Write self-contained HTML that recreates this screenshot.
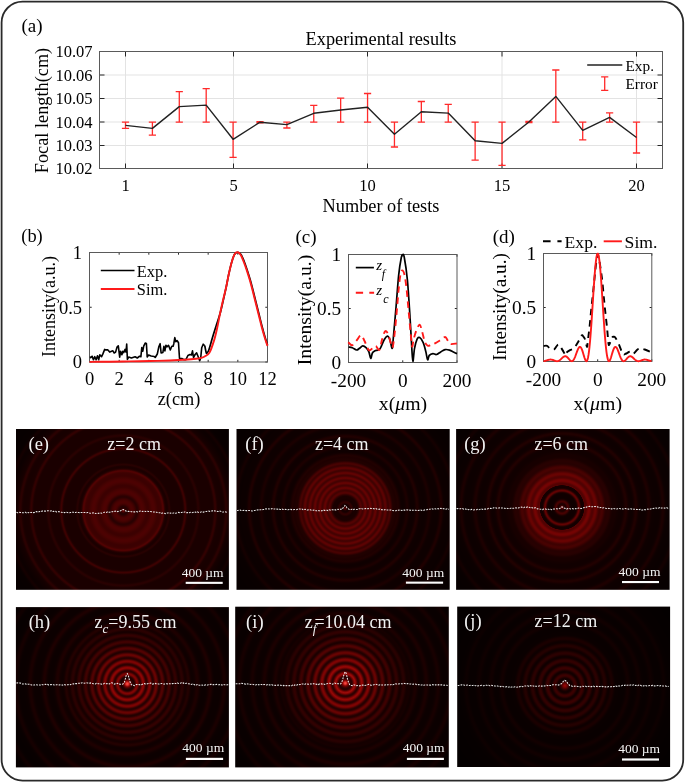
<!DOCTYPE html>
<html><head><meta charset="utf-8"><style>
html,body{margin:0;padding:0;background:#fff;}
body{width:685px;height:783px;overflow:hidden;}
svg{display:block;font-family:"Liberation Serif", serif;will-change:transform;}
</style></head><body>
<svg width="685" height="783" viewBox="0 0 685 783">
<rect x="1.6" y="1.6" width="681.6" height="779" rx="21" ry="21" fill="#fff" stroke="#2a2a2a" stroke-width="1.8"/>
<defs><radialGradient id="ge" gradientUnits="userSpaceOnUse" cx="123.3" cy="510.6" r="140">
<stop offset="0.0000" stop-color="rgb(104,3,2)"/>
<stop offset="0.0036" stop-color="rgb(100,3,2)"/>
<stop offset="0.0071" stop-color="rgb(89,2,2)"/>
<stop offset="0.0107" stop-color="rgb(73,2,2)"/>
<stop offset="0.0143" stop-color="rgb(58,1,1)"/>
<stop offset="0.0179" stop-color="rgb(46,1,1)"/>
<stop offset="0.0214" stop-color="rgb(38,1,1)"/>
<stop offset="0.0250" stop-color="rgb(36,1,1)"/>
<stop offset="0.0286" stop-color="rgb(37,1,1)"/>
<stop offset="0.0321" stop-color="rgb(42,1,1)"/>
<stop offset="0.0357" stop-color="rgb(48,1,1)"/>
<stop offset="0.0393" stop-color="rgb(54,1,1)"/>
<stop offset="0.0429" stop-color="rgb(61,1,1)"/>
<stop offset="0.0464" stop-color="rgb(66,2,1)"/>
<stop offset="0.0500" stop-color="rgb(71,2,2)"/>
<stop offset="0.0536" stop-color="rgb(74,2,2)"/>
<stop offset="0.0571" stop-color="rgb(76,2,2)"/>
<stop offset="0.0607" stop-color="rgb(77,2,2)"/>
<stop offset="0.0643" stop-color="rgb(76,2,2)"/>
<stop offset="0.0679" stop-color="rgb(75,2,2)"/>
<stop offset="0.0714" stop-color="rgb(73,2,2)"/>
<stop offset="0.0750" stop-color="rgb(70,2,1)"/>
<stop offset="0.0786" stop-color="rgb(66,2,1)"/>
<stop offset="0.0821" stop-color="rgb(62,1,1)"/>
<stop offset="0.0857" stop-color="rgb(56,1,1)"/>
<stop offset="0.0893" stop-color="rgb(51,1,1)"/>
<stop offset="0.0929" stop-color="rgb(45,1,1)"/>
<stop offset="0.0964" stop-color="rgb(41,1,1)"/>
<stop offset="0.1000" stop-color="rgb(41,1,1)"/>
<stop offset="0.1036" stop-color="rgb(43,1,1)"/>
<stop offset="0.1071" stop-color="rgb(48,1,1)"/>
<stop offset="0.1107" stop-color="rgb(54,1,1)"/>
<stop offset="0.1143" stop-color="rgb(60,1,1)"/>
<stop offset="0.1179" stop-color="rgb(66,2,1)"/>
<stop offset="0.1214" stop-color="rgb(71,2,2)"/>
<stop offset="0.1250" stop-color="rgb(74,2,2)"/>
<stop offset="0.1286" stop-color="rgb(76,2,2)"/>
<stop offset="0.1321" stop-color="rgb(77,2,2)"/>
<stop offset="0.1357" stop-color="rgb(78,2,2)"/>
<stop offset="0.1393" stop-color="rgb(77,2,2)"/>
<stop offset="0.1429" stop-color="rgb(76,2,2)"/>
<stop offset="0.1464" stop-color="rgb(74,2,2)"/>
<stop offset="0.1500" stop-color="rgb(72,2,2)"/>
<stop offset="0.1536" stop-color="rgb(70,2,1)"/>
<stop offset="0.1571" stop-color="rgb(67,2,1)"/>
<stop offset="0.1607" stop-color="rgb(65,2,1)"/>
<stop offset="0.1643" stop-color="rgb(62,1,1)"/>
<stop offset="0.1679" stop-color="rgb(61,1,1)"/>
<stop offset="0.1714" stop-color="rgb(60,1,1)"/>
<stop offset="0.1750" stop-color="rgb(59,1,1)"/>
<stop offset="0.1786" stop-color="rgb(59,1,1)"/>
<stop offset="0.1821" stop-color="rgb(60,1,1)"/>
<stop offset="0.1857" stop-color="rgb(62,1,1)"/>
<stop offset="0.1893" stop-color="rgb(64,2,1)"/>
<stop offset="0.1929" stop-color="rgb(67,2,1)"/>
<stop offset="0.1964" stop-color="rgb(69,2,1)"/>
<stop offset="0.2000" stop-color="rgb(71,2,2)"/>
<stop offset="0.2036" stop-color="rgb(74,2,2)"/>
<stop offset="0.2071" stop-color="rgb(75,2,2)"/>
<stop offset="0.2107" stop-color="rgb(76,2,2)"/>
<stop offset="0.2143" stop-color="rgb(77,2,2)"/>
<stop offset="0.2179" stop-color="rgb(76,2,2)"/>
<stop offset="0.2214" stop-color="rgb(75,2,2)"/>
<stop offset="0.2250" stop-color="rgb(74,2,2)"/>
<stop offset="0.2286" stop-color="rgb(71,2,2)"/>
<stop offset="0.2321" stop-color="rgb(69,2,1)"/>
<stop offset="0.2357" stop-color="rgb(67,2,1)"/>
<stop offset="0.2393" stop-color="rgb(64,2,1)"/>
<stop offset="0.2429" stop-color="rgb(62,1,1)"/>
<stop offset="0.2464" stop-color="rgb(60,1,1)"/>
<stop offset="0.2500" stop-color="rgb(59,1,1)"/>
<stop offset="0.2536" stop-color="rgb(59,1,1)"/>
<stop offset="0.2571" stop-color="rgb(59,1,1)"/>
<stop offset="0.2607" stop-color="rgb(60,1,1)"/>
<stop offset="0.2643" stop-color="rgb(60,1,1)"/>
<stop offset="0.2679" stop-color="rgb(62,1,1)"/>
<stop offset="0.2714" stop-color="rgb(64,2,1)"/>
<stop offset="0.2750" stop-color="rgb(68,2,1)"/>
<stop offset="0.2786" stop-color="rgb(75,2,2)"/>
<stop offset="0.2821" stop-color="rgb(81,2,2)"/>
<stop offset="0.2857" stop-color="rgb(80,2,2)"/>
<stop offset="0.2893" stop-color="rgb(71,2,2)"/>
<stop offset="0.2929" stop-color="rgb(56,1,1)"/>
<stop offset="0.2964" stop-color="rgb(43,1,1)"/>
<stop offset="0.3000" stop-color="rgb(34,1,0)"/>
<stop offset="0.3036" stop-color="rgb(30,0,0)"/>
<stop offset="0.3071" stop-color="rgb(27,0,0)"/>
<stop offset="0.3107" stop-color="rgb(26,0,0)"/>
<stop offset="0.3143" stop-color="rgb(27,0,0)"/>
<stop offset="0.3179" stop-color="rgb(29,0,0)"/>
<stop offset="0.3214" stop-color="rgb(33,1,0)"/>
<stop offset="0.3250" stop-color="rgb(38,1,1)"/>
<stop offset="0.3286" stop-color="rgb(40,1,1)"/>
<stop offset="0.3321" stop-color="rgb(38,1,1)"/>
<stop offset="0.3357" stop-color="rgb(34,1,0)"/>
<stop offset="0.3393" stop-color="rgb(29,0,0)"/>
<stop offset="0.3429" stop-color="rgb(27,0,0)"/>
<stop offset="0.3464" stop-color="rgb(26,0,0)"/>
<stop offset="0.3500" stop-color="rgb(26,0,0)"/>
<stop offset="0.3536" stop-color="rgb(26,0,0)"/>
<stop offset="0.3571" stop-color="rgb(26,0,0)"/>
<stop offset="0.3607" stop-color="rgb(26,0,0)"/>
<stop offset="0.3643" stop-color="rgb(26,0,0)"/>
<stop offset="0.3679" stop-color="rgb(26,0,0)"/>
<stop offset="0.3714" stop-color="rgb(26,0,0)"/>
<stop offset="0.3750" stop-color="rgb(26,0,0)"/>
<stop offset="0.3786" stop-color="rgb(26,0,0)"/>
<stop offset="0.3821" stop-color="rgb(26,0,0)"/>
<stop offset="0.3857" stop-color="rgb(26,0,0)"/>
<stop offset="0.3893" stop-color="rgb(26,0,0)"/>
<stop offset="0.3929" stop-color="rgb(26,0,0)"/>
<stop offset="0.3964" stop-color="rgb(26,0,0)"/>
<stop offset="0.4000" stop-color="rgb(26,0,0)"/>
<stop offset="0.4036" stop-color="rgb(26,0,0)"/>
<stop offset="0.4071" stop-color="rgb(26,0,0)"/>
<stop offset="0.4107" stop-color="rgb(26,0,0)"/>
<stop offset="0.4143" stop-color="rgb(26,0,0)"/>
<stop offset="0.4179" stop-color="rgb(26,0,0)"/>
<stop offset="0.4214" stop-color="rgb(27,0,0)"/>
<stop offset="0.4250" stop-color="rgb(28,0,0)"/>
<stop offset="0.4286" stop-color="rgb(31,0,0)"/>
<stop offset="0.4321" stop-color="rgb(38,1,1)"/>
<stop offset="0.4357" stop-color="rgb(48,1,1)"/>
<stop offset="0.4393" stop-color="rgb(58,1,1)"/>
<stop offset="0.4429" stop-color="rgb(62,1,1)"/>
<stop offset="0.4464" stop-color="rgb(58,1,1)"/>
<stop offset="0.4500" stop-color="rgb(48,1,1)"/>
<stop offset="0.4536" stop-color="rgb(38,1,1)"/>
<stop offset="0.4571" stop-color="rgb(31,0,0)"/>
<stop offset="0.4607" stop-color="rgb(28,0,0)"/>
<stop offset="0.4643" stop-color="rgb(27,0,0)"/>
<stop offset="0.4679" stop-color="rgb(26,0,0)"/>
<stop offset="0.4714" stop-color="rgb(26,0,0)"/>
<stop offset="0.4750" stop-color="rgb(26,0,0)"/>
<stop offset="0.4786" stop-color="rgb(26,0,0)"/>
<stop offset="0.4821" stop-color="rgb(26,0,0)"/>
<stop offset="0.4857" stop-color="rgb(26,0,0)"/>
<stop offset="0.4893" stop-color="rgb(26,0,0)"/>
<stop offset="0.4929" stop-color="rgb(26,0,0)"/>
<stop offset="0.4964" stop-color="rgb(26,0,0)"/>
<stop offset="0.5000" stop-color="rgb(26,0,0)"/>
<stop offset="0.5036" stop-color="rgb(26,0,0)"/>
<stop offset="0.5071" stop-color="rgb(26,0,0)"/>
<stop offset="0.5107" stop-color="rgb(26,0,0)"/>
<stop offset="0.5143" stop-color="rgb(26,0,0)"/>
<stop offset="0.5179" stop-color="rgb(27,0,0)"/>
<stop offset="0.5214" stop-color="rgb(29,0,0)"/>
<stop offset="0.5250" stop-color="rgb(32,1,0)"/>
<stop offset="0.5286" stop-color="rgb(36,1,1)"/>
<stop offset="0.5321" stop-color="rgb(40,1,1)"/>
<stop offset="0.5357" stop-color="rgb(41,1,1)"/>
<stop offset="0.5393" stop-color="rgb(40,1,1)"/>
<stop offset="0.5429" stop-color="rgb(36,1,1)"/>
<stop offset="0.5464" stop-color="rgb(32,1,0)"/>
<stop offset="0.5500" stop-color="rgb(29,0,0)"/>
<stop offset="0.5536" stop-color="rgb(27,0,0)"/>
<stop offset="0.5571" stop-color="rgb(26,0,0)"/>
<stop offset="0.5607" stop-color="rgb(26,0,0)"/>
<stop offset="0.5643" stop-color="rgb(26,0,0)"/>
<stop offset="0.5679" stop-color="rgb(26,0,0)"/>
<stop offset="0.5714" stop-color="rgb(26,0,0)"/>
<stop offset="0.5750" stop-color="rgb(26,0,0)"/>
<stop offset="0.5786" stop-color="rgb(26,0,0)"/>
<stop offset="0.5821" stop-color="rgb(26,0,0)"/>
<stop offset="0.5857" stop-color="rgb(26,0,0)"/>
<stop offset="0.5893" stop-color="rgb(26,0,0)"/>
<stop offset="0.5929" stop-color="rgb(26,0,0)"/>
<stop offset="0.5964" stop-color="rgb(26,0,0)"/>
<stop offset="0.6000" stop-color="rgb(26,0,0)"/>
<stop offset="0.6036" stop-color="rgb(26,0,0)"/>
<stop offset="0.6071" stop-color="rgb(26,0,0)"/>
<stop offset="0.6107" stop-color="rgb(26,0,0)"/>
<stop offset="0.6143" stop-color="rgb(26,0,0)"/>
<stop offset="0.6179" stop-color="rgb(26,0,0)"/>
<stop offset="0.6214" stop-color="rgb(26,0,0)"/>
<stop offset="0.6250" stop-color="rgb(26,0,0)"/>
<stop offset="0.6286" stop-color="rgb(26,0,0)"/>
<stop offset="0.6321" stop-color="rgb(26,0,0)"/>
<stop offset="0.6357" stop-color="rgb(26,0,0)"/>
<stop offset="0.6393" stop-color="rgb(28,0,0)"/>
<stop offset="0.6429" stop-color="rgb(31,0,0)"/>
<stop offset="0.6464" stop-color="rgb(36,1,1)"/>
<stop offset="0.6500" stop-color="rgb(43,1,1)"/>
<stop offset="0.6536" stop-color="rgb(48,1,1)"/>
<stop offset="0.6571" stop-color="rgb(51,1,1)"/>
<stop offset="0.6607" stop-color="rgb(48,1,1)"/>
<stop offset="0.6643" stop-color="rgb(42,1,1)"/>
<stop offset="0.6679" stop-color="rgb(36,1,1)"/>
<stop offset="0.6714" stop-color="rgb(30,0,0)"/>
<stop offset="0.6750" stop-color="rgb(27,0,0)"/>
<stop offset="0.6786" stop-color="rgb(26,0,0)"/>
<stop offset="0.6821" stop-color="rgb(25,0,0)"/>
<stop offset="0.6857" stop-color="rgb(25,0,0)"/>
<stop offset="0.6893" stop-color="rgb(25,0,0)"/>
<stop offset="0.6929" stop-color="rgb(24,0,0)"/>
<stop offset="0.6964" stop-color="rgb(24,0,0)"/>
<stop offset="0.7000" stop-color="rgb(24,0,0)"/>
<stop offset="0.7036" stop-color="rgb(24,0,0)"/>
<stop offset="0.7071" stop-color="rgb(24,0,0)"/>
<stop offset="0.7107" stop-color="rgb(24,0,0)"/>
<stop offset="0.7143" stop-color="rgb(25,0,0)"/>
<stop offset="0.7179" stop-color="rgb(27,0,0)"/>
<stop offset="0.7214" stop-color="rgb(29,0,0)"/>
<stop offset="0.7250" stop-color="rgb(33,1,0)"/>
<stop offset="0.7286" stop-color="rgb(38,1,1)"/>
<stop offset="0.7321" stop-color="rgb(42,1,1)"/>
<stop offset="0.7357" stop-color="rgb(43,1,1)"/>
<stop offset="0.7393" stop-color="rgb(41,1,1)"/>
<stop offset="0.7429" stop-color="rgb(37,1,1)"/>
<stop offset="0.7464" stop-color="rgb(32,1,0)"/>
<stop offset="0.7500" stop-color="rgb(27,0,0)"/>
<stop offset="0.7536" stop-color="rgb(24,0,0)"/>
<stop offset="0.7571" stop-color="rgb(22,0,0)"/>
<stop offset="0.7607" stop-color="rgb(21,0,0)"/>
<stop offset="0.7643" stop-color="rgb(20,0,0)"/>
<stop offset="0.7679" stop-color="rgb(19,0,0)"/>
<stop offset="0.7714" stop-color="rgb(19,0,0)"/>
<stop offset="0.7750" stop-color="rgb(18,0,0)"/>
<stop offset="0.7786" stop-color="rgb(17,0,0)"/>
<stop offset="0.7821" stop-color="rgb(17,0,0)"/>
<stop offset="0.7857" stop-color="rgb(16,0,0)"/>
<stop offset="0.7893" stop-color="rgb(15,0,0)"/>
<stop offset="0.7929" stop-color="rgb(15,0,0)"/>
<stop offset="0.7964" stop-color="rgb(14,0,0)"/>
<stop offset="0.8000" stop-color="rgb(14,0,0)"/>
<stop offset="0.8036" stop-color="rgb(13,0,0)"/>
<stop offset="0.8071" stop-color="rgb(13,0,0)"/>
<stop offset="0.8107" stop-color="rgb(14,0,0)"/>
<stop offset="0.8143" stop-color="rgb(15,0,0)"/>
<stop offset="0.8179" stop-color="rgb(16,0,0)"/>
<stop offset="0.8214" stop-color="rgb(18,0,0)"/>
<stop offset="0.8250" stop-color="rgb(20,0,0)"/>
<stop offset="0.8286" stop-color="rgb(20,0,0)"/>
<stop offset="0.8321" stop-color="rgb(19,0,0)"/>
<stop offset="0.8357" stop-color="rgb(17,0,0)"/>
<stop offset="0.8393" stop-color="rgb(14,0,0)"/>
<stop offset="0.8429" stop-color="rgb(12,0,0)"/>
<stop offset="0.8464" stop-color="rgb(10,0,0)"/>
<stop offset="0.8500" stop-color="rgb(9,0,0)"/>
<stop offset="0.8536" stop-color="rgb(9,0,0)"/>
<stop offset="0.8571" stop-color="rgb(8,0,0)"/>
<stop offset="0.8607" stop-color="rgb(8,0,0)"/>
<stop offset="0.8643" stop-color="rgb(8,0,0)"/>
<stop offset="0.8679" stop-color="rgb(8,0,0)"/>
<stop offset="0.8714" stop-color="rgb(8,0,0)"/>
<stop offset="0.8750" stop-color="rgb(8,0,0)"/>
<stop offset="0.8786" stop-color="rgb(8,0,0)"/>
<stop offset="0.8821" stop-color="rgb(8,0,0)"/>
<stop offset="0.8857" stop-color="rgb(8,0,0)"/>
<stop offset="0.8893" stop-color="rgb(7,0,0)"/>
<stop offset="0.8929" stop-color="rgb(7,0,0)"/>
<stop offset="0.8964" stop-color="rgb(7,0,0)"/>
<stop offset="0.9000" stop-color="rgb(7,0,0)"/>
<stop offset="0.9036" stop-color="rgb(7,0,0)"/>
<stop offset="0.9071" stop-color="rgb(7,0,0)"/>
<stop offset="0.9107" stop-color="rgb(7,0,0)"/>
<stop offset="0.9143" stop-color="rgb(7,0,0)"/>
<stop offset="0.9179" stop-color="rgb(7,0,0)"/>
<stop offset="0.9214" stop-color="rgb(7,0,0)"/>
<stop offset="0.9250" stop-color="rgb(7,0,0)"/>
<stop offset="0.9286" stop-color="rgb(7,0,0)"/>
<stop offset="0.9321" stop-color="rgb(7,0,0)"/>
<stop offset="0.9357" stop-color="rgb(7,0,0)"/>
<stop offset="0.9393" stop-color="rgb(7,0,0)"/>
<stop offset="0.9429" stop-color="rgb(7,0,0)"/>
<stop offset="0.9464" stop-color="rgb(7,0,0)"/>
<stop offset="0.9500" stop-color="rgb(7,0,0)"/>
<stop offset="0.9536" stop-color="rgb(7,0,0)"/>
<stop offset="0.9571" stop-color="rgb(7,0,0)"/>
<stop offset="0.9607" stop-color="rgb(6,0,0)"/>
<stop offset="0.9643" stop-color="rgb(6,0,0)"/>
<stop offset="0.9679" stop-color="rgb(6,0,0)"/>
<stop offset="0.9714" stop-color="rgb(6,0,0)"/>
<stop offset="0.9750" stop-color="rgb(6,0,0)"/>
<stop offset="0.9786" stop-color="rgb(6,0,0)"/>
<stop offset="0.9821" stop-color="rgb(6,0,0)"/>
<stop offset="0.9857" stop-color="rgb(6,0,0)"/>
<stop offset="0.9893" stop-color="rgb(6,0,0)"/>
<stop offset="0.9929" stop-color="rgb(6,0,0)"/>
<stop offset="0.9964" stop-color="rgb(6,0,0)"/>
<stop offset="1.0000" stop-color="rgb(6,0,0)"/>
</radialGradient>
<radialGradient id="gf" gradientUnits="userSpaceOnUse" cx="345.2" cy="508.3" r="140">
<stop offset="0.0000" stop-color="rgb(86,2,2)"/>
<stop offset="0.0036" stop-color="rgb(81,2,2)"/>
<stop offset="0.0071" stop-color="rgb(67,2,1)"/>
<stop offset="0.0107" stop-color="rgb(51,1,1)"/>
<stop offset="0.0143" stop-color="rgb(36,1,1)"/>
<stop offset="0.0179" stop-color="rgb(26,0,0)"/>
<stop offset="0.0214" stop-color="rgb(22,0,0)"/>
<stop offset="0.0250" stop-color="rgb(21,0,0)"/>
<stop offset="0.0286" stop-color="rgb(25,0,0)"/>
<stop offset="0.0321" stop-color="rgb(31,0,0)"/>
<stop offset="0.0357" stop-color="rgb(39,1,1)"/>
<stop offset="0.0393" stop-color="rgb(45,1,1)"/>
<stop offset="0.0429" stop-color="rgb(48,1,1)"/>
<stop offset="0.0464" stop-color="rgb(46,1,1)"/>
<stop offset="0.0500" stop-color="rgb(40,1,1)"/>
<stop offset="0.0536" stop-color="rgb(34,1,0)"/>
<stop offset="0.0571" stop-color="rgb(28,0,0)"/>
<stop offset="0.0607" stop-color="rgb(25,0,0)"/>
<stop offset="0.0643" stop-color="rgb(24,0,0)"/>
<stop offset="0.0679" stop-color="rgb(25,0,0)"/>
<stop offset="0.0714" stop-color="rgb(26,0,0)"/>
<stop offset="0.0750" stop-color="rgb(26,0,0)"/>
<stop offset="0.0786" stop-color="rgb(26,0,0)"/>
<stop offset="0.0821" stop-color="rgb(26,0,0)"/>
<stop offset="0.0857" stop-color="rgb(27,0,0)"/>
<stop offset="0.0893" stop-color="rgb(32,1,0)"/>
<stop offset="0.0929" stop-color="rgb(38,1,1)"/>
<stop offset="0.0964" stop-color="rgb(47,1,1)"/>
<stop offset="0.1000" stop-color="rgb(58,1,1)"/>
<stop offset="0.1036" stop-color="rgb(70,2,1)"/>
<stop offset="0.1071" stop-color="rgb(79,2,2)"/>
<stop offset="0.1107" stop-color="rgb(83,2,2)"/>
<stop offset="0.1143" stop-color="rgb(82,2,2)"/>
<stop offset="0.1179" stop-color="rgb(77,2,2)"/>
<stop offset="0.1214" stop-color="rgb(70,2,1)"/>
<stop offset="0.1250" stop-color="rgb(65,2,1)"/>
<stop offset="0.1286" stop-color="rgb(66,2,1)"/>
<stop offset="0.1321" stop-color="rgb(72,2,2)"/>
<stop offset="0.1357" stop-color="rgb(81,2,2)"/>
<stop offset="0.1393" stop-color="rgb(91,2,2)"/>
<stop offset="0.1429" stop-color="rgb(98,3,2)"/>
<stop offset="0.1464" stop-color="rgb(99,3,2)"/>
<stop offset="0.1500" stop-color="rgb(94,2,2)"/>
<stop offset="0.1536" stop-color="rgb(85,2,2)"/>
<stop offset="0.1571" stop-color="rgb(75,2,2)"/>
<stop offset="0.1607" stop-color="rgb(69,2,1)"/>
<stop offset="0.1643" stop-color="rgb(68,2,1)"/>
<stop offset="0.1679" stop-color="rgb(73,2,2)"/>
<stop offset="0.1714" stop-color="rgb(83,2,2)"/>
<stop offset="0.1750" stop-color="rgb(93,2,2)"/>
<stop offset="0.1786" stop-color="rgb(99,3,2)"/>
<stop offset="0.1821" stop-color="rgb(100,3,2)"/>
<stop offset="0.1857" stop-color="rgb(94,2,2)"/>
<stop offset="0.1893" stop-color="rgb(84,2,2)"/>
<stop offset="0.1929" stop-color="rgb(74,2,2)"/>
<stop offset="0.1964" stop-color="rgb(68,2,1)"/>
<stop offset="0.2000" stop-color="rgb(67,2,1)"/>
<stop offset="0.2036" stop-color="rgb(72,2,2)"/>
<stop offset="0.2071" stop-color="rgb(82,2,2)"/>
<stop offset="0.2107" stop-color="rgb(91,2,2)"/>
<stop offset="0.2143" stop-color="rgb(98,3,2)"/>
<stop offset="0.2179" stop-color="rgb(98,3,2)"/>
<stop offset="0.2214" stop-color="rgb(93,2,2)"/>
<stop offset="0.2250" stop-color="rgb(83,2,2)"/>
<stop offset="0.2286" stop-color="rgb(73,2,2)"/>
<stop offset="0.2321" stop-color="rgb(66,2,1)"/>
<stop offset="0.2357" stop-color="rgb(65,2,1)"/>
<stop offset="0.2393" stop-color="rgb(71,2,2)"/>
<stop offset="0.2429" stop-color="rgb(80,2,2)"/>
<stop offset="0.2464" stop-color="rgb(90,2,2)"/>
<stop offset="0.2500" stop-color="rgb(96,3,2)"/>
<stop offset="0.2536" stop-color="rgb(97,3,2)"/>
<stop offset="0.2571" stop-color="rgb(91,2,2)"/>
<stop offset="0.2607" stop-color="rgb(81,2,2)"/>
<stop offset="0.2643" stop-color="rgb(71,2,2)"/>
<stop offset="0.2679" stop-color="rgb(64,2,1)"/>
<stop offset="0.2714" stop-color="rgb(63,2,1)"/>
<stop offset="0.2750" stop-color="rgb(68,2,1)"/>
<stop offset="0.2786" stop-color="rgb(77,2,2)"/>
<stop offset="0.2821" stop-color="rgb(87,2,2)"/>
<stop offset="0.2857" stop-color="rgb(92,2,2)"/>
<stop offset="0.2893" stop-color="rgb(92,2,2)"/>
<stop offset="0.2929" stop-color="rgb(86,2,2)"/>
<stop offset="0.2964" stop-color="rgb(76,2,2)"/>
<stop offset="0.3000" stop-color="rgb(66,2,1)"/>
<stop offset="0.3036" stop-color="rgb(59,1,1)"/>
<stop offset="0.3071" stop-color="rgb(57,1,1)"/>
<stop offset="0.3107" stop-color="rgb(60,1,1)"/>
<stop offset="0.3143" stop-color="rgb(66,2,1)"/>
<stop offset="0.3179" stop-color="rgb(71,2,2)"/>
<stop offset="0.3214" stop-color="rgb(72,2,2)"/>
<stop offset="0.3250" stop-color="rgb(68,2,1)"/>
<stop offset="0.3286" stop-color="rgb(60,1,1)"/>
<stop offset="0.3321" stop-color="rgb(51,1,1)"/>
<stop offset="0.3357" stop-color="rgb(42,1,1)"/>
<stop offset="0.3393" stop-color="rgb(35,1,1)"/>
<stop offset="0.3429" stop-color="rgb(32,1,0)"/>
<stop offset="0.3464" stop-color="rgb(32,1,0)"/>
<stop offset="0.3500" stop-color="rgb(32,1,0)"/>
<stop offset="0.3536" stop-color="rgb(31,1,0)"/>
<stop offset="0.3571" stop-color="rgb(31,0,0)"/>
<stop offset="0.3607" stop-color="rgb(30,0,0)"/>
<stop offset="0.3643" stop-color="rgb(29,0,0)"/>
<stop offset="0.3679" stop-color="rgb(30,0,0)"/>
<stop offset="0.3714" stop-color="rgb(31,0,0)"/>
<stop offset="0.3750" stop-color="rgb(32,1,0)"/>
<stop offset="0.3786" stop-color="rgb(32,1,0)"/>
<stop offset="0.3821" stop-color="rgb(31,0,0)"/>
<stop offset="0.3857" stop-color="rgb(28,0,0)"/>
<stop offset="0.3893" stop-color="rgb(25,0,0)"/>
<stop offset="0.3929" stop-color="rgb(22,0,0)"/>
<stop offset="0.3964" stop-color="rgb(19,0,0)"/>
<stop offset="0.4000" stop-color="rgb(17,0,0)"/>
<stop offset="0.4036" stop-color="rgb(16,0,0)"/>
<stop offset="0.4071" stop-color="rgb(15,0,0)"/>
<stop offset="0.4107" stop-color="rgb(15,0,0)"/>
<stop offset="0.4143" stop-color="rgb(15,0,0)"/>
<stop offset="0.4179" stop-color="rgb(16,0,0)"/>
<stop offset="0.4214" stop-color="rgb(16,0,0)"/>
<stop offset="0.4250" stop-color="rgb(18,0,0)"/>
<stop offset="0.4286" stop-color="rgb(20,0,0)"/>
<stop offset="0.4321" stop-color="rgb(22,0,0)"/>
<stop offset="0.4357" stop-color="rgb(25,0,0)"/>
<stop offset="0.4393" stop-color="rgb(27,0,0)"/>
<stop offset="0.4429" stop-color="rgb(28,0,0)"/>
<stop offset="0.4464" stop-color="rgb(27,0,0)"/>
<stop offset="0.4500" stop-color="rgb(25,0,0)"/>
<stop offset="0.4536" stop-color="rgb(22,0,0)"/>
<stop offset="0.4571" stop-color="rgb(19,0,0)"/>
<stop offset="0.4607" stop-color="rgb(17,0,0)"/>
<stop offset="0.4643" stop-color="rgb(16,0,0)"/>
<stop offset="0.4679" stop-color="rgb(15,0,0)"/>
<stop offset="0.4714" stop-color="rgb(15,0,0)"/>
<stop offset="0.4750" stop-color="rgb(15,0,0)"/>
<stop offset="0.4786" stop-color="rgb(15,0,0)"/>
<stop offset="0.4821" stop-color="rgb(15,0,0)"/>
<stop offset="0.4857" stop-color="rgb(15,0,0)"/>
<stop offset="0.4893" stop-color="rgb(15,0,0)"/>
<stop offset="0.4929" stop-color="rgb(17,0,0)"/>
<stop offset="0.4964" stop-color="rgb(18,0,0)"/>
<stop offset="0.5000" stop-color="rgb(21,0,0)"/>
<stop offset="0.5036" stop-color="rgb(25,0,0)"/>
<stop offset="0.5071" stop-color="rgb(29,0,0)"/>
<stop offset="0.5107" stop-color="rgb(31,1,0)"/>
<stop offset="0.5143" stop-color="rgb(32,1,0)"/>
<stop offset="0.5179" stop-color="rgb(31,0,0)"/>
<stop offset="0.5214" stop-color="rgb(28,0,0)"/>
<stop offset="0.5250" stop-color="rgb(25,0,0)"/>
<stop offset="0.5286" stop-color="rgb(21,0,0)"/>
<stop offset="0.5321" stop-color="rgb(18,0,0)"/>
<stop offset="0.5357" stop-color="rgb(16,0,0)"/>
<stop offset="0.5393" stop-color="rgb(15,0,0)"/>
<stop offset="0.5429" stop-color="rgb(15,0,0)"/>
<stop offset="0.5464" stop-color="rgb(15,0,0)"/>
<stop offset="0.5500" stop-color="rgb(15,0,0)"/>
<stop offset="0.5536" stop-color="rgb(14,0,0)"/>
<stop offset="0.5571" stop-color="rgb(14,0,0)"/>
<stop offset="0.5607" stop-color="rgb(14,0,0)"/>
<stop offset="0.5643" stop-color="rgb(14,0,0)"/>
<stop offset="0.5679" stop-color="rgb(14,0,0)"/>
<stop offset="0.5714" stop-color="rgb(15,0,0)"/>
<stop offset="0.5750" stop-color="rgb(15,0,0)"/>
<stop offset="0.5786" stop-color="rgb(16,0,0)"/>
<stop offset="0.5821" stop-color="rgb(17,0,0)"/>
<stop offset="0.5857" stop-color="rgb(19,0,0)"/>
<stop offset="0.5893" stop-color="rgb(22,0,0)"/>
<stop offset="0.5929" stop-color="rgb(24,0,0)"/>
<stop offset="0.5964" stop-color="rgb(26,0,0)"/>
<stop offset="0.6000" stop-color="rgb(27,0,0)"/>
<stop offset="0.6036" stop-color="rgb(26,0,0)"/>
<stop offset="0.6071" stop-color="rgb(24,0,0)"/>
<stop offset="0.6107" stop-color="rgb(21,0,0)"/>
<stop offset="0.6143" stop-color="rgb(19,0,0)"/>
<stop offset="0.6179" stop-color="rgb(17,0,0)"/>
<stop offset="0.6214" stop-color="rgb(15,0,0)"/>
<stop offset="0.6250" stop-color="rgb(15,0,0)"/>
<stop offset="0.6286" stop-color="rgb(14,0,0)"/>
<stop offset="0.6321" stop-color="rgb(14,0,0)"/>
<stop offset="0.6357" stop-color="rgb(14,0,0)"/>
<stop offset="0.6393" stop-color="rgb(14,0,0)"/>
<stop offset="0.6429" stop-color="rgb(14,0,0)"/>
<stop offset="0.6464" stop-color="rgb(14,0,0)"/>
<stop offset="0.6500" stop-color="rgb(14,0,0)"/>
<stop offset="0.6536" stop-color="rgb(14,0,0)"/>
<stop offset="0.6571" stop-color="rgb(14,0,0)"/>
<stop offset="0.6607" stop-color="rgb(14,0,0)"/>
<stop offset="0.6643" stop-color="rgb(15,0,0)"/>
<stop offset="0.6679" stop-color="rgb(17,0,0)"/>
<stop offset="0.6714" stop-color="rgb(20,0,0)"/>
<stop offset="0.6750" stop-color="rgb(23,0,0)"/>
<stop offset="0.6786" stop-color="rgb(27,0,0)"/>
<stop offset="0.6821" stop-color="rgb(30,0,0)"/>
<stop offset="0.6857" stop-color="rgb(31,0,0)"/>
<stop offset="0.6893" stop-color="rgb(30,0,0)"/>
<stop offset="0.6929" stop-color="rgb(27,0,0)"/>
<stop offset="0.6964" stop-color="rgb(23,0,0)"/>
<stop offset="0.7000" stop-color="rgb(19,0,0)"/>
<stop offset="0.7036" stop-color="rgb(16,0,0)"/>
<stop offset="0.7071" stop-color="rgb(14,0,0)"/>
<stop offset="0.7107" stop-color="rgb(13,0,0)"/>
<stop offset="0.7143" stop-color="rgb(13,0,0)"/>
<stop offset="0.7179" stop-color="rgb(12,0,0)"/>
<stop offset="0.7214" stop-color="rgb(12,0,0)"/>
<stop offset="0.7250" stop-color="rgb(12,0,0)"/>
<stop offset="0.7286" stop-color="rgb(12,0,0)"/>
<stop offset="0.7321" stop-color="rgb(12,0,0)"/>
<stop offset="0.7357" stop-color="rgb(12,0,0)"/>
<stop offset="0.7393" stop-color="rgb(12,0,0)"/>
<stop offset="0.7429" stop-color="rgb(12,0,0)"/>
<stop offset="0.7464" stop-color="rgb(12,0,0)"/>
<stop offset="0.7500" stop-color="rgb(11,0,0)"/>
<stop offset="0.7536" stop-color="rgb(11,0,0)"/>
<stop offset="0.7571" stop-color="rgb(11,0,0)"/>
<stop offset="0.7607" stop-color="rgb(12,0,0)"/>
<stop offset="0.7643" stop-color="rgb(12,0,0)"/>
<stop offset="0.7679" stop-color="rgb(13,0,0)"/>
<stop offset="0.7714" stop-color="rgb(15,0,0)"/>
<stop offset="0.7750" stop-color="rgb(16,0,0)"/>
<stop offset="0.7786" stop-color="rgb(19,0,0)"/>
<stop offset="0.7821" stop-color="rgb(20,0,0)"/>
<stop offset="0.7857" stop-color="rgb(21,0,0)"/>
<stop offset="0.7893" stop-color="rgb(20,0,0)"/>
<stop offset="0.7929" stop-color="rgb(18,0,0)"/>
<stop offset="0.7964" stop-color="rgb(16,0,0)"/>
<stop offset="0.8000" stop-color="rgb(14,0,0)"/>
<stop offset="0.8036" stop-color="rgb(12,0,0)"/>
<stop offset="0.8071" stop-color="rgb(11,0,0)"/>
<stop offset="0.8107" stop-color="rgb(10,0,0)"/>
<stop offset="0.8143" stop-color="rgb(10,0,0)"/>
<stop offset="0.8179" stop-color="rgb(9,0,0)"/>
<stop offset="0.8214" stop-color="rgb(9,0,0)"/>
<stop offset="0.8250" stop-color="rgb(9,0,0)"/>
<stop offset="0.8286" stop-color="rgb(9,0,0)"/>
<stop offset="0.8321" stop-color="rgb(9,0,0)"/>
<stop offset="0.8357" stop-color="rgb(9,0,0)"/>
<stop offset="0.8393" stop-color="rgb(9,0,0)"/>
<stop offset="0.8429" stop-color="rgb(9,0,0)"/>
<stop offset="0.8464" stop-color="rgb(9,0,0)"/>
<stop offset="0.8500" stop-color="rgb(8,0,0)"/>
<stop offset="0.8536" stop-color="rgb(8,0,0)"/>
<stop offset="0.8571" stop-color="rgb(8,0,0)"/>
<stop offset="0.8607" stop-color="rgb(8,0,0)"/>
<stop offset="0.8643" stop-color="rgb(8,0,0)"/>
<stop offset="0.8679" stop-color="rgb(8,0,0)"/>
<stop offset="0.8714" stop-color="rgb(8,0,0)"/>
<stop offset="0.8750" stop-color="rgb(8,0,0)"/>
<stop offset="0.8786" stop-color="rgb(8,0,0)"/>
<stop offset="0.8821" stop-color="rgb(8,0,0)"/>
<stop offset="0.8857" stop-color="rgb(8,0,0)"/>
<stop offset="0.8893" stop-color="rgb(8,0,0)"/>
<stop offset="0.8929" stop-color="rgb(8,0,0)"/>
<stop offset="0.8964" stop-color="rgb(7,0,0)"/>
<stop offset="0.9000" stop-color="rgb(7,0,0)"/>
<stop offset="0.9036" stop-color="rgb(7,0,0)"/>
<stop offset="0.9071" stop-color="rgb(7,0,0)"/>
<stop offset="0.9107" stop-color="rgb(7,0,0)"/>
<stop offset="0.9143" stop-color="rgb(7,0,0)"/>
<stop offset="0.9179" stop-color="rgb(7,0,0)"/>
<stop offset="0.9214" stop-color="rgb(7,0,0)"/>
<stop offset="0.9250" stop-color="rgb(7,0,0)"/>
<stop offset="0.9286" stop-color="rgb(7,0,0)"/>
<stop offset="0.9321" stop-color="rgb(7,0,0)"/>
<stop offset="0.9357" stop-color="rgb(7,0,0)"/>
<stop offset="0.9393" stop-color="rgb(7,0,0)"/>
<stop offset="0.9429" stop-color="rgb(7,0,0)"/>
<stop offset="0.9464" stop-color="rgb(7,0,0)"/>
<stop offset="0.9500" stop-color="rgb(7,0,0)"/>
<stop offset="0.9536" stop-color="rgb(7,0,0)"/>
<stop offset="0.9571" stop-color="rgb(7,0,0)"/>
<stop offset="0.9607" stop-color="rgb(7,0,0)"/>
<stop offset="0.9643" stop-color="rgb(7,0,0)"/>
<stop offset="0.9679" stop-color="rgb(7,0,0)"/>
<stop offset="0.9714" stop-color="rgb(6,0,0)"/>
<stop offset="0.9750" stop-color="rgb(6,0,0)"/>
<stop offset="0.9786" stop-color="rgb(6,0,0)"/>
<stop offset="0.9821" stop-color="rgb(6,0,0)"/>
<stop offset="0.9857" stop-color="rgb(6,0,0)"/>
<stop offset="0.9893" stop-color="rgb(6,0,0)"/>
<stop offset="0.9929" stop-color="rgb(6,0,0)"/>
<stop offset="0.9964" stop-color="rgb(6,0,0)"/>
<stop offset="1.0000" stop-color="rgb(6,0,0)"/>
</radialGradient>
<radialGradient id="gg" gradientUnits="userSpaceOnUse" cx="562.0" cy="507.5" r="140">
<stop offset="0.0000" stop-color="rgb(104,3,2)"/>
<stop offset="0.0036" stop-color="rgb(100,3,2)"/>
<stop offset="0.0071" stop-color="rgb(87,2,2)"/>
<stop offset="0.0107" stop-color="rgb(71,2,2)"/>
<stop offset="0.0143" stop-color="rgb(54,1,1)"/>
<stop offset="0.0179" stop-color="rgb(41,1,1)"/>
<stop offset="0.0214" stop-color="rgb(32,1,0)"/>
<stop offset="0.0250" stop-color="rgb(30,0,0)"/>
<stop offset="0.0286" stop-color="rgb(34,1,0)"/>
<stop offset="0.0321" stop-color="rgb(44,1,1)"/>
<stop offset="0.0357" stop-color="rgb(57,1,1)"/>
<stop offset="0.0393" stop-color="rgb(67,2,1)"/>
<stop offset="0.0429" stop-color="rgb(71,2,2)"/>
<stop offset="0.0464" stop-color="rgb(67,2,1)"/>
<stop offset="0.0500" stop-color="rgb(56,1,1)"/>
<stop offset="0.0536" stop-color="rgb(43,1,1)"/>
<stop offset="0.0571" stop-color="rgb(31,0,0)"/>
<stop offset="0.0607" stop-color="rgb(23,0,0)"/>
<stop offset="0.0643" stop-color="rgb(18,0,0)"/>
<stop offset="0.0679" stop-color="rgb(16,0,0)"/>
<stop offset="0.0714" stop-color="rgb(15,0,0)"/>
<stop offset="0.0750" stop-color="rgb(15,0,0)"/>
<stop offset="0.0786" stop-color="rgb(15,0,0)"/>
<stop offset="0.0821" stop-color="rgb(15,0,0)"/>
<stop offset="0.0857" stop-color="rgb(15,0,0)"/>
<stop offset="0.0893" stop-color="rgb(15,0,0)"/>
<stop offset="0.0929" stop-color="rgb(15,0,0)"/>
<stop offset="0.0964" stop-color="rgb(16,0,0)"/>
<stop offset="0.1000" stop-color="rgb(17,0,0)"/>
<stop offset="0.1036" stop-color="rgb(22,0,0)"/>
<stop offset="0.1071" stop-color="rgb(32,1,0)"/>
<stop offset="0.1107" stop-color="rgb(50,1,1)"/>
<stop offset="0.1143" stop-color="rgb(72,2,2)"/>
<stop offset="0.1179" stop-color="rgb(91,2,2)"/>
<stop offset="0.1214" stop-color="rgb(99,3,2)"/>
<stop offset="0.1250" stop-color="rgb(91,2,2)"/>
<stop offset="0.1286" stop-color="rgb(72,2,2)"/>
<stop offset="0.1321" stop-color="rgb(50,1,1)"/>
<stop offset="0.1357" stop-color="rgb(33,1,0)"/>
<stop offset="0.1393" stop-color="rgb(23,0,0)"/>
<stop offset="0.1429" stop-color="rgb(19,0,0)"/>
<stop offset="0.1464" stop-color="rgb(19,0,0)"/>
<stop offset="0.1500" stop-color="rgb(20,0,0)"/>
<stop offset="0.1536" stop-color="rgb(21,0,0)"/>
<stop offset="0.1571" stop-color="rgb(23,0,0)"/>
<stop offset="0.1607" stop-color="rgb(90,2,2)"/>
<stop offset="0.1643" stop-color="rgb(84,2,2)"/>
<stop offset="0.1679" stop-color="rgb(81,2,2)"/>
<stop offset="0.1714" stop-color="rgb(82,2,2)"/>
<stop offset="0.1750" stop-color="rgb(87,2,2)"/>
<stop offset="0.1786" stop-color="rgb(94,2,2)"/>
<stop offset="0.1821" stop-color="rgb(102,3,2)"/>
<stop offset="0.1857" stop-color="rgb(110,3,3)"/>
<stop offset="0.1893" stop-color="rgb(115,3,3)"/>
<stop offset="0.1929" stop-color="rgb(117,3,3)"/>
<stop offset="0.1964" stop-color="rgb(115,3,3)"/>
<stop offset="0.2000" stop-color="rgb(110,3,3)"/>
<stop offset="0.2036" stop-color="rgb(102,3,2)"/>
<stop offset="0.2071" stop-color="rgb(94,2,2)"/>
<stop offset="0.2107" stop-color="rgb(86,2,2)"/>
<stop offset="0.2143" stop-color="rgb(81,2,2)"/>
<stop offset="0.2179" stop-color="rgb(80,2,2)"/>
<stop offset="0.2214" stop-color="rgb(81,2,2)"/>
<stop offset="0.2250" stop-color="rgb(86,2,2)"/>
<stop offset="0.2286" stop-color="rgb(92,2,2)"/>
<stop offset="0.2321" stop-color="rgb(99,3,2)"/>
<stop offset="0.2357" stop-color="rgb(103,3,2)"/>
<stop offset="0.2393" stop-color="rgb(105,3,2)"/>
<stop offset="0.2429" stop-color="rgb(103,3,2)"/>
<stop offset="0.2464" stop-color="rgb(98,3,2)"/>
<stop offset="0.2500" stop-color="rgb(91,2,2)"/>
<stop offset="0.2536" stop-color="rgb(82,2,2)"/>
<stop offset="0.2571" stop-color="rgb(74,2,2)"/>
<stop offset="0.2607" stop-color="rgb(68,2,1)"/>
<stop offset="0.2643" stop-color="rgb(63,2,1)"/>
<stop offset="0.2679" stop-color="rgb(62,1,1)"/>
<stop offset="0.2714" stop-color="rgb(63,1,1)"/>
<stop offset="0.2750" stop-color="rgb(65,2,1)"/>
<stop offset="0.2786" stop-color="rgb(68,2,1)"/>
<stop offset="0.2821" stop-color="rgb(71,2,2)"/>
<stop offset="0.2857" stop-color="rgb(71,2,2)"/>
<stop offset="0.2893" stop-color="rgb(70,2,1)"/>
<stop offset="0.2929" stop-color="rgb(67,2,1)"/>
<stop offset="0.2964" stop-color="rgb(62,1,1)"/>
<stop offset="0.3000" stop-color="rgb(56,1,1)"/>
<stop offset="0.3036" stop-color="rgb(50,1,1)"/>
<stop offset="0.3071" stop-color="rgb(45,1,1)"/>
<stop offset="0.3107" stop-color="rgb(41,1,1)"/>
<stop offset="0.3143" stop-color="rgb(39,1,1)"/>
<stop offset="0.3179" stop-color="rgb(38,1,1)"/>
<stop offset="0.3214" stop-color="rgb(39,1,1)"/>
<stop offset="0.3250" stop-color="rgb(39,1,1)"/>
<stop offset="0.3286" stop-color="rgb(40,1,1)"/>
<stop offset="0.3321" stop-color="rgb(40,1,1)"/>
<stop offset="0.3357" stop-color="rgb(39,1,1)"/>
<stop offset="0.3393" stop-color="rgb(38,1,1)"/>
<stop offset="0.3429" stop-color="rgb(36,1,1)"/>
<stop offset="0.3464" stop-color="rgb(33,1,0)"/>
<stop offset="0.3500" stop-color="rgb(30,0,0)"/>
<stop offset="0.3536" stop-color="rgb(28,0,0)"/>
<stop offset="0.3571" stop-color="rgb(25,0,0)"/>
<stop offset="0.3607" stop-color="rgb(24,0,0)"/>
<stop offset="0.3643" stop-color="rgb(23,0,0)"/>
<stop offset="0.3679" stop-color="rgb(23,0,0)"/>
<stop offset="0.3714" stop-color="rgb(23,0,0)"/>
<stop offset="0.3750" stop-color="rgb(23,0,0)"/>
<stop offset="0.3786" stop-color="rgb(23,0,0)"/>
<stop offset="0.3821" stop-color="rgb(23,0,0)"/>
<stop offset="0.3857" stop-color="rgb(22,0,0)"/>
<stop offset="0.3893" stop-color="rgb(21,0,0)"/>
<stop offset="0.3929" stop-color="rgb(20,0,0)"/>
<stop offset="0.3964" stop-color="rgb(19,0,0)"/>
<stop offset="0.4000" stop-color="rgb(19,0,0)"/>
<stop offset="0.4036" stop-color="rgb(18,0,0)"/>
<stop offset="0.4071" stop-color="rgb(17,0,0)"/>
<stop offset="0.4107" stop-color="rgb(17,0,0)"/>
<stop offset="0.4143" stop-color="rgb(17,0,0)"/>
<stop offset="0.4179" stop-color="rgb(17,0,0)"/>
<stop offset="0.4214" stop-color="rgb(17,0,0)"/>
<stop offset="0.4250" stop-color="rgb(17,0,0)"/>
<stop offset="0.4286" stop-color="rgb(17,0,0)"/>
<stop offset="0.4321" stop-color="rgb(18,0,0)"/>
<stop offset="0.4357" stop-color="rgb(19,0,0)"/>
<stop offset="0.4393" stop-color="rgb(21,0,0)"/>
<stop offset="0.4429" stop-color="rgb(24,0,0)"/>
<stop offset="0.4464" stop-color="rgb(27,0,0)"/>
<stop offset="0.4500" stop-color="rgb(30,0,0)"/>
<stop offset="0.4536" stop-color="rgb(32,1,0)"/>
<stop offset="0.4571" stop-color="rgb(33,1,0)"/>
<stop offset="0.4607" stop-color="rgb(32,1,0)"/>
<stop offset="0.4643" stop-color="rgb(30,0,0)"/>
<stop offset="0.4679" stop-color="rgb(26,0,0)"/>
<stop offset="0.4714" stop-color="rgb(23,0,0)"/>
<stop offset="0.4750" stop-color="rgb(20,0,0)"/>
<stop offset="0.4786" stop-color="rgb(18,0,0)"/>
<stop offset="0.4821" stop-color="rgb(16,0,0)"/>
<stop offset="0.4857" stop-color="rgb(16,0,0)"/>
<stop offset="0.4893" stop-color="rgb(15,0,0)"/>
<stop offset="0.4929" stop-color="rgb(15,0,0)"/>
<stop offset="0.4964" stop-color="rgb(15,0,0)"/>
<stop offset="0.5000" stop-color="rgb(15,0,0)"/>
<stop offset="0.5036" stop-color="rgb(16,0,0)"/>
<stop offset="0.5071" stop-color="rgb(17,0,0)"/>
<stop offset="0.5107" stop-color="rgb(20,0,0)"/>
<stop offset="0.5143" stop-color="rgb(22,0,0)"/>
<stop offset="0.5179" stop-color="rgb(26,0,0)"/>
<stop offset="0.5214" stop-color="rgb(29,0,0)"/>
<stop offset="0.5250" stop-color="rgb(32,1,0)"/>
<stop offset="0.5286" stop-color="rgb(32,1,0)"/>
<stop offset="0.5321" stop-color="rgb(32,1,0)"/>
<stop offset="0.5357" stop-color="rgb(29,0,0)"/>
<stop offset="0.5393" stop-color="rgb(26,0,0)"/>
<stop offset="0.5429" stop-color="rgb(22,0,0)"/>
<stop offset="0.5464" stop-color="rgb(19,0,0)"/>
<stop offset="0.5500" stop-color="rgb(17,0,0)"/>
<stop offset="0.5536" stop-color="rgb(16,0,0)"/>
<stop offset="0.5571" stop-color="rgb(15,0,0)"/>
<stop offset="0.5607" stop-color="rgb(15,0,0)"/>
<stop offset="0.5643" stop-color="rgb(15,0,0)"/>
<stop offset="0.5679" stop-color="rgb(14,0,0)"/>
<stop offset="0.5714" stop-color="rgb(14,0,0)"/>
<stop offset="0.5750" stop-color="rgb(14,0,0)"/>
<stop offset="0.5786" stop-color="rgb(14,0,0)"/>
<stop offset="0.5821" stop-color="rgb(14,0,0)"/>
<stop offset="0.5857" stop-color="rgb(14,0,0)"/>
<stop offset="0.5893" stop-color="rgb(14,0,0)"/>
<stop offset="0.5929" stop-color="rgb(15,0,0)"/>
<stop offset="0.5964" stop-color="rgb(15,0,0)"/>
<stop offset="0.6000" stop-color="rgb(17,0,0)"/>
<stop offset="0.6036" stop-color="rgb(18,0,0)"/>
<stop offset="0.6071" stop-color="rgb(21,0,0)"/>
<stop offset="0.6107" stop-color="rgb(24,0,0)"/>
<stop offset="0.6143" stop-color="rgb(27,0,0)"/>
<stop offset="0.6179" stop-color="rgb(29,0,0)"/>
<stop offset="0.6214" stop-color="rgb(29,0,0)"/>
<stop offset="0.6250" stop-color="rgb(28,0,0)"/>
<stop offset="0.6286" stop-color="rgb(26,0,0)"/>
<stop offset="0.6321" stop-color="rgb(23,0,0)"/>
<stop offset="0.6357" stop-color="rgb(21,0,0)"/>
<stop offset="0.6393" stop-color="rgb(18,0,0)"/>
<stop offset="0.6429" stop-color="rgb(16,0,0)"/>
<stop offset="0.6464" stop-color="rgb(15,0,0)"/>
<stop offset="0.6500" stop-color="rgb(14,0,0)"/>
<stop offset="0.6536" stop-color="rgb(14,0,0)"/>
<stop offset="0.6571" stop-color="rgb(14,0,0)"/>
<stop offset="0.6607" stop-color="rgb(14,0,0)"/>
<stop offset="0.6643" stop-color="rgb(13,0,0)"/>
<stop offset="0.6679" stop-color="rgb(13,0,0)"/>
<stop offset="0.6714" stop-color="rgb(13,0,0)"/>
<stop offset="0.6750" stop-color="rgb(13,0,0)"/>
<stop offset="0.6786" stop-color="rgb(13,0,0)"/>
<stop offset="0.6821" stop-color="rgb(13,0,0)"/>
<stop offset="0.6857" stop-color="rgb(13,0,0)"/>
<stop offset="0.6893" stop-color="rgb(13,0,0)"/>
<stop offset="0.6929" stop-color="rgb(13,0,0)"/>
<stop offset="0.6964" stop-color="rgb(14,0,0)"/>
<stop offset="0.7000" stop-color="rgb(15,0,0)"/>
<stop offset="0.7036" stop-color="rgb(17,0,0)"/>
<stop offset="0.7071" stop-color="rgb(19,0,0)"/>
<stop offset="0.7107" stop-color="rgb(22,0,0)"/>
<stop offset="0.7143" stop-color="rgb(25,0,0)"/>
<stop offset="0.7179" stop-color="rgb(27,0,0)"/>
<stop offset="0.7214" stop-color="rgb(28,0,0)"/>
<stop offset="0.7250" stop-color="rgb(27,0,0)"/>
<stop offset="0.7286" stop-color="rgb(24,0,0)"/>
<stop offset="0.7321" stop-color="rgb(22,0,0)"/>
<stop offset="0.7357" stop-color="rgb(19,0,0)"/>
<stop offset="0.7393" stop-color="rgb(16,0,0)"/>
<stop offset="0.7429" stop-color="rgb(14,0,0)"/>
<stop offset="0.7464" stop-color="rgb(13,0,0)"/>
<stop offset="0.7500" stop-color="rgb(12,0,0)"/>
<stop offset="0.7536" stop-color="rgb(12,0,0)"/>
<stop offset="0.7571" stop-color="rgb(11,0,0)"/>
<stop offset="0.7607" stop-color="rgb(11,0,0)"/>
<stop offset="0.7643" stop-color="rgb(11,0,0)"/>
<stop offset="0.7679" stop-color="rgb(11,0,0)"/>
<stop offset="0.7714" stop-color="rgb(11,0,0)"/>
<stop offset="0.7750" stop-color="rgb(11,0,0)"/>
<stop offset="0.7786" stop-color="rgb(11,0,0)"/>
<stop offset="0.7821" stop-color="rgb(10,0,0)"/>
<stop offset="0.7857" stop-color="rgb(10,0,0)"/>
<stop offset="0.7893" stop-color="rgb(10,0,0)"/>
<stop offset="0.7929" stop-color="rgb(10,0,0)"/>
<stop offset="0.7964" stop-color="rgb(10,0,0)"/>
<stop offset="0.8000" stop-color="rgb(10,0,0)"/>
<stop offset="0.8036" stop-color="rgb(11,0,0)"/>
<stop offset="0.8071" stop-color="rgb(11,0,0)"/>
<stop offset="0.8107" stop-color="rgb(12,0,0)"/>
<stop offset="0.8143" stop-color="rgb(14,0,0)"/>
<stop offset="0.8179" stop-color="rgb(16,0,0)"/>
<stop offset="0.8214" stop-color="rgb(18,0,0)"/>
<stop offset="0.8250" stop-color="rgb(19,0,0)"/>
<stop offset="0.8286" stop-color="rgb(19,0,0)"/>
<stop offset="0.8321" stop-color="rgb(19,0,0)"/>
<stop offset="0.8357" stop-color="rgb(17,0,0)"/>
<stop offset="0.8393" stop-color="rgb(15,0,0)"/>
<stop offset="0.8429" stop-color="rgb(13,0,0)"/>
<stop offset="0.8464" stop-color="rgb(11,0,0)"/>
<stop offset="0.8500" stop-color="rgb(10,0,0)"/>
<stop offset="0.8536" stop-color="rgb(9,0,0)"/>
<stop offset="0.8571" stop-color="rgb(9,0,0)"/>
<stop offset="0.8607" stop-color="rgb(8,0,0)"/>
<stop offset="0.8643" stop-color="rgb(8,0,0)"/>
<stop offset="0.8679" stop-color="rgb(8,0,0)"/>
<stop offset="0.8714" stop-color="rgb(8,0,0)"/>
<stop offset="0.8750" stop-color="rgb(8,0,0)"/>
<stop offset="0.8786" stop-color="rgb(8,0,0)"/>
<stop offset="0.8821" stop-color="rgb(8,0,0)"/>
<stop offset="0.8857" stop-color="rgb(8,0,0)"/>
<stop offset="0.8893" stop-color="rgb(8,0,0)"/>
<stop offset="0.8929" stop-color="rgb(8,0,0)"/>
<stop offset="0.8964" stop-color="rgb(7,0,0)"/>
<stop offset="0.9000" stop-color="rgb(7,0,0)"/>
<stop offset="0.9036" stop-color="rgb(7,0,0)"/>
<stop offset="0.9071" stop-color="rgb(7,0,0)"/>
<stop offset="0.9107" stop-color="rgb(7,0,0)"/>
<stop offset="0.9143" stop-color="rgb(7,0,0)"/>
<stop offset="0.9179" stop-color="rgb(7,0,0)"/>
<stop offset="0.9214" stop-color="rgb(7,0,0)"/>
<stop offset="0.9250" stop-color="rgb(7,0,0)"/>
<stop offset="0.9286" stop-color="rgb(7,0,0)"/>
<stop offset="0.9321" stop-color="rgb(7,0,0)"/>
<stop offset="0.9357" stop-color="rgb(7,0,0)"/>
<stop offset="0.9393" stop-color="rgb(7,0,0)"/>
<stop offset="0.9429" stop-color="rgb(7,0,0)"/>
<stop offset="0.9464" stop-color="rgb(7,0,0)"/>
<stop offset="0.9500" stop-color="rgb(7,0,0)"/>
<stop offset="0.9536" stop-color="rgb(7,0,0)"/>
<stop offset="0.9571" stop-color="rgb(7,0,0)"/>
<stop offset="0.9607" stop-color="rgb(7,0,0)"/>
<stop offset="0.9643" stop-color="rgb(7,0,0)"/>
<stop offset="0.9679" stop-color="rgb(7,0,0)"/>
<stop offset="0.9714" stop-color="rgb(6,0,0)"/>
<stop offset="0.9750" stop-color="rgb(6,0,0)"/>
<stop offset="0.9786" stop-color="rgb(6,0,0)"/>
<stop offset="0.9821" stop-color="rgb(6,0,0)"/>
<stop offset="0.9857" stop-color="rgb(6,0,0)"/>
<stop offset="0.9893" stop-color="rgb(6,0,0)"/>
<stop offset="0.9929" stop-color="rgb(6,0,0)"/>
<stop offset="0.9964" stop-color="rgb(6,0,0)"/>
<stop offset="1.0000" stop-color="rgb(6,0,0)"/>
</radialGradient>
<radialGradient id="gh" gradientUnits="userSpaceOnUse" cx="127.3" cy="683.8" r="140">
<stop offset="0.0000" stop-color="rgb(255,71,64)"/>
<stop offset="0.0036" stop-color="rgb(249,68,61)"/>
<stop offset="0.0071" stop-color="rgb(235,59,53)"/>
<stop offset="0.0107" stop-color="rgb(212,46,41)"/>
<stop offset="0.0143" stop-color="rgb(185,30,27)"/>
<stop offset="0.0179" stop-color="rgb(155,13,12)"/>
<stop offset="0.0214" stop-color="rgb(127,3,3)"/>
<stop offset="0.0250" stop-color="rgb(101,3,2)"/>
<stop offset="0.0286" stop-color="rgb(79,2,2)"/>
<stop offset="0.0321" stop-color="rgb(61,1,1)"/>
<stop offset="0.0357" stop-color="rgb(48,1,1)"/>
<stop offset="0.0393" stop-color="rgb(37,1,1)"/>
<stop offset="0.0429" stop-color="rgb(31,0,0)"/>
<stop offset="0.0464" stop-color="rgb(29,0,0)"/>
<stop offset="0.0500" stop-color="rgb(34,1,0)"/>
<stop offset="0.0536" stop-color="rgb(48,1,1)"/>
<stop offset="0.0571" stop-color="rgb(68,2,1)"/>
<stop offset="0.0607" stop-color="rgb(93,2,2)"/>
<stop offset="0.0643" stop-color="rgb(115,3,3)"/>
<stop offset="0.0679" stop-color="rgb(128,4,3)"/>
<stop offset="0.0714" stop-color="rgb(129,4,3)"/>
<stop offset="0.0750" stop-color="rgb(118,3,3)"/>
<stop offset="0.0786" stop-color="rgb(99,3,2)"/>
<stop offset="0.0821" stop-color="rgb(76,2,2)"/>
<stop offset="0.0857" stop-color="rgb(57,1,1)"/>
<stop offset="0.0893" stop-color="rgb(46,1,1)"/>
<stop offset="0.0929" stop-color="rgb(46,1,1)"/>
<stop offset="0.0964" stop-color="rgb(57,1,1)"/>
<stop offset="0.1000" stop-color="rgb(77,2,2)"/>
<stop offset="0.1036" stop-color="rgb(100,3,2)"/>
<stop offset="0.1071" stop-color="rgb(122,3,3)"/>
<stop offset="0.1107" stop-color="rgb(137,4,3)"/>
<stop offset="0.1143" stop-color="rgb(142,5,5)"/>
<stop offset="0.1179" stop-color="rgb(135,4,3)"/>
<stop offset="0.1214" stop-color="rgb(119,3,3)"/>
<stop offset="0.1250" stop-color="rgb(97,3,2)"/>
<stop offset="0.1286" stop-color="rgb(73,2,2)"/>
<stop offset="0.1321" stop-color="rgb(54,1,1)"/>
<stop offset="0.1357" stop-color="rgb(44,1,1)"/>
<stop offset="0.1393" stop-color="rgb(43,1,1)"/>
<stop offset="0.1429" stop-color="rgb(53,1,1)"/>
<stop offset="0.1464" stop-color="rgb(70,2,2)"/>
<stop offset="0.1500" stop-color="rgb(91,2,2)"/>
<stop offset="0.1536" stop-color="rgb(110,3,3)"/>
<stop offset="0.1571" stop-color="rgb(122,3,3)"/>
<stop offset="0.1607" stop-color="rgb(126,3,3)"/>
<stop offset="0.1643" stop-color="rgb(119,3,3)"/>
<stop offset="0.1679" stop-color="rgb(105,3,2)"/>
<stop offset="0.1714" stop-color="rgb(85,2,2)"/>
<stop offset="0.1750" stop-color="rgb(65,2,1)"/>
<stop offset="0.1786" stop-color="rgb(48,1,1)"/>
<stop offset="0.1821" stop-color="rgb(39,1,1)"/>
<stop offset="0.1857" stop-color="rgb(39,1,1)"/>
<stop offset="0.1893" stop-color="rgb(47,1,1)"/>
<stop offset="0.1929" stop-color="rgb(61,1,1)"/>
<stop offset="0.1964" stop-color="rgb(77,2,2)"/>
<stop offset="0.2000" stop-color="rgb(92,2,2)"/>
<stop offset="0.2036" stop-color="rgb(102,3,2)"/>
<stop offset="0.2071" stop-color="rgb(105,3,2)"/>
<stop offset="0.2107" stop-color="rgb(99,3,2)"/>
<stop offset="0.2143" stop-color="rgb(87,2,2)"/>
<stop offset="0.2179" stop-color="rgb(71,2,2)"/>
<stop offset="0.2214" stop-color="rgb(55,1,1)"/>
<stop offset="0.2250" stop-color="rgb(42,1,1)"/>
<stop offset="0.2286" stop-color="rgb(34,1,0)"/>
<stop offset="0.2321" stop-color="rgb(34,1,0)"/>
<stop offset="0.2357" stop-color="rgb(40,1,1)"/>
<stop offset="0.2393" stop-color="rgb(51,1,1)"/>
<stop offset="0.2429" stop-color="rgb(63,2,1)"/>
<stop offset="0.2464" stop-color="rgb(75,2,2)"/>
<stop offset="0.2500" stop-color="rgb(82,2,2)"/>
<stop offset="0.2536" stop-color="rgb(83,2,2)"/>
<stop offset="0.2571" stop-color="rgb(79,2,2)"/>
<stop offset="0.2607" stop-color="rgb(69,2,1)"/>
<stop offset="0.2643" stop-color="rgb(57,1,1)"/>
<stop offset="0.2679" stop-color="rgb(45,1,1)"/>
<stop offset="0.2714" stop-color="rgb(35,1,1)"/>
<stop offset="0.2750" stop-color="rgb(30,0,0)"/>
<stop offset="0.2786" stop-color="rgb(29,0,0)"/>
<stop offset="0.2821" stop-color="rgb(34,1,0)"/>
<stop offset="0.2857" stop-color="rgb(42,1,1)"/>
<stop offset="0.2893" stop-color="rgb(51,1,1)"/>
<stop offset="0.2929" stop-color="rgb(59,1,1)"/>
<stop offset="0.2964" stop-color="rgb(64,2,1)"/>
<stop offset="0.3000" stop-color="rgb(65,2,1)"/>
<stop offset="0.3036" stop-color="rgb(62,1,1)"/>
<stop offset="0.3071" stop-color="rgb(55,1,1)"/>
<stop offset="0.3107" stop-color="rgb(46,1,1)"/>
<stop offset="0.3143" stop-color="rgb(37,1,1)"/>
<stop offset="0.3179" stop-color="rgb(30,0,0)"/>
<stop offset="0.3214" stop-color="rgb(26,0,0)"/>
<stop offset="0.3250" stop-color="rgb(26,0,0)"/>
<stop offset="0.3286" stop-color="rgb(29,0,0)"/>
<stop offset="0.3321" stop-color="rgb(35,1,0)"/>
<stop offset="0.3357" stop-color="rgb(41,1,1)"/>
<stop offset="0.3393" stop-color="rgb(47,1,1)"/>
<stop offset="0.3429" stop-color="rgb(51,1,1)"/>
<stop offset="0.3464" stop-color="rgb(52,1,1)"/>
<stop offset="0.3500" stop-color="rgb(49,1,1)"/>
<stop offset="0.3536" stop-color="rgb(44,1,1)"/>
<stop offset="0.3571" stop-color="rgb(38,1,1)"/>
<stop offset="0.3607" stop-color="rgb(31,1,0)"/>
<stop offset="0.3643" stop-color="rgb(26,0,0)"/>
<stop offset="0.3679" stop-color="rgb(23,0,0)"/>
<stop offset="0.3714" stop-color="rgb(23,0,0)"/>
<stop offset="0.3750" stop-color="rgb(26,0,0)"/>
<stop offset="0.3786" stop-color="rgb(30,0,0)"/>
<stop offset="0.3821" stop-color="rgb(35,1,0)"/>
<stop offset="0.3857" stop-color="rgb(39,1,1)"/>
<stop offset="0.3893" stop-color="rgb(42,1,1)"/>
<stop offset="0.3929" stop-color="rgb(43,1,1)"/>
<stop offset="0.3964" stop-color="rgb(41,1,1)"/>
<stop offset="0.4000" stop-color="rgb(37,1,1)"/>
<stop offset="0.4036" stop-color="rgb(33,1,0)"/>
<stop offset="0.4071" stop-color="rgb(28,0,0)"/>
<stop offset="0.4107" stop-color="rgb(24,0,0)"/>
<stop offset="0.4143" stop-color="rgb(22,0,0)"/>
<stop offset="0.4179" stop-color="rgb(22,0,0)"/>
<stop offset="0.4214" stop-color="rgb(23,0,0)"/>
<stop offset="0.4250" stop-color="rgb(27,0,0)"/>
<stop offset="0.4286" stop-color="rgb(30,0,0)"/>
<stop offset="0.4321" stop-color="rgb(33,1,0)"/>
<stop offset="0.4357" stop-color="rgb(35,1,1)"/>
<stop offset="0.4393" stop-color="rgb(35,1,0)"/>
<stop offset="0.4429" stop-color="rgb(32,1,0)"/>
<stop offset="0.4464" stop-color="rgb(29,0,0)"/>
<stop offset="0.4500" stop-color="rgb(24,0,0)"/>
<stop offset="0.4536" stop-color="rgb(20,0,0)"/>
<stop offset="0.4571" stop-color="rgb(17,0,0)"/>
<stop offset="0.4607" stop-color="rgb(16,0,0)"/>
<stop offset="0.4643" stop-color="rgb(15,0,0)"/>
<stop offset="0.4679" stop-color="rgb(15,0,0)"/>
<stop offset="0.4714" stop-color="rgb(16,0,0)"/>
<stop offset="0.4750" stop-color="rgb(17,0,0)"/>
<stop offset="0.4786" stop-color="rgb(18,0,0)"/>
<stop offset="0.4821" stop-color="rgb(20,0,0)"/>
<stop offset="0.4857" stop-color="rgb(22,0,0)"/>
<stop offset="0.4893" stop-color="rgb(25,0,0)"/>
<stop offset="0.4929" stop-color="rgb(28,0,0)"/>
<stop offset="0.4964" stop-color="rgb(29,0,0)"/>
<stop offset="0.5000" stop-color="rgb(30,0,0)"/>
<stop offset="0.5036" stop-color="rgb(29,0,0)"/>
<stop offset="0.5071" stop-color="rgb(27,0,0)"/>
<stop offset="0.5107" stop-color="rgb(25,0,0)"/>
<stop offset="0.5143" stop-color="rgb(22,0,0)"/>
<stop offset="0.5179" stop-color="rgb(19,0,0)"/>
<stop offset="0.5214" stop-color="rgb(16,0,0)"/>
<stop offset="0.5250" stop-color="rgb(15,0,0)"/>
<stop offset="0.5286" stop-color="rgb(14,0,0)"/>
<stop offset="0.5321" stop-color="rgb(13,0,0)"/>
<stop offset="0.5357" stop-color="rgb(12,0,0)"/>
<stop offset="0.5393" stop-color="rgb(12,0,0)"/>
<stop offset="0.5429" stop-color="rgb(12,0,0)"/>
<stop offset="0.5464" stop-color="rgb(12,0,0)"/>
<stop offset="0.5500" stop-color="rgb(12,0,0)"/>
<stop offset="0.5536" stop-color="rgb(12,0,0)"/>
<stop offset="0.5571" stop-color="rgb(12,0,0)"/>
<stop offset="0.5607" stop-color="rgb(13,0,0)"/>
<stop offset="0.5643" stop-color="rgb(13,0,0)"/>
<stop offset="0.5679" stop-color="rgb(15,0,0)"/>
<stop offset="0.5714" stop-color="rgb(16,0,0)"/>
<stop offset="0.5750" stop-color="rgb(19,0,0)"/>
<stop offset="0.5786" stop-color="rgb(21,0,0)"/>
<stop offset="0.5821" stop-color="rgb(24,0,0)"/>
<stop offset="0.5857" stop-color="rgb(27,0,0)"/>
<stop offset="0.5893" stop-color="rgb(29,0,0)"/>
<stop offset="0.5929" stop-color="rgb(30,0,0)"/>
<stop offset="0.5964" stop-color="rgb(29,0,0)"/>
<stop offset="0.6000" stop-color="rgb(27,0,0)"/>
<stop offset="0.6036" stop-color="rgb(24,0,0)"/>
<stop offset="0.6071" stop-color="rgb(21,0,0)"/>
<stop offset="0.6107" stop-color="rgb(18,0,0)"/>
<stop offset="0.6143" stop-color="rgb(16,0,0)"/>
<stop offset="0.6179" stop-color="rgb(14,0,0)"/>
<stop offset="0.6214" stop-color="rgb(13,0,0)"/>
<stop offset="0.6250" stop-color="rgb(12,0,0)"/>
<stop offset="0.6286" stop-color="rgb(12,0,0)"/>
<stop offset="0.6321" stop-color="rgb(12,0,0)"/>
<stop offset="0.6357" stop-color="rgb(12,0,0)"/>
<stop offset="0.6393" stop-color="rgb(12,0,0)"/>
<stop offset="0.6429" stop-color="rgb(12,0,0)"/>
<stop offset="0.6464" stop-color="rgb(12,0,0)"/>
<stop offset="0.6500" stop-color="rgb(12,0,0)"/>
<stop offset="0.6536" stop-color="rgb(12,0,0)"/>
<stop offset="0.6571" stop-color="rgb(12,0,0)"/>
<stop offset="0.6607" stop-color="rgb(12,0,0)"/>
<stop offset="0.6643" stop-color="rgb(13,0,0)"/>
<stop offset="0.6679" stop-color="rgb(14,0,0)"/>
<stop offset="0.6714" stop-color="rgb(15,0,0)"/>
<stop offset="0.6750" stop-color="rgb(17,0,0)"/>
<stop offset="0.6786" stop-color="rgb(19,0,0)"/>
<stop offset="0.6821" stop-color="rgb(22,0,0)"/>
<stop offset="0.6857" stop-color="rgb(24,0,0)"/>
<stop offset="0.6893" stop-color="rgb(26,0,0)"/>
<stop offset="0.6929" stop-color="rgb(26,0,0)"/>
<stop offset="0.6964" stop-color="rgb(26,0,0)"/>
<stop offset="0.7000" stop-color="rgb(24,0,0)"/>
<stop offset="0.7036" stop-color="rgb(22,0,0)"/>
<stop offset="0.7071" stop-color="rgb(19,0,0)"/>
<stop offset="0.7107" stop-color="rgb(17,0,0)"/>
<stop offset="0.7143" stop-color="rgb(14,0,0)"/>
<stop offset="0.7179" stop-color="rgb(13,0,0)"/>
<stop offset="0.7214" stop-color="rgb(12,0,0)"/>
<stop offset="0.7250" stop-color="rgb(11,0,0)"/>
<stop offset="0.7286" stop-color="rgb(11,0,0)"/>
<stop offset="0.7321" stop-color="rgb(11,0,0)"/>
<stop offset="0.7357" stop-color="rgb(11,0,0)"/>
<stop offset="0.7393" stop-color="rgb(10,0,0)"/>
<stop offset="0.7429" stop-color="rgb(10,0,0)"/>
<stop offset="0.7464" stop-color="rgb(10,0,0)"/>
<stop offset="0.7500" stop-color="rgb(10,0,0)"/>
<stop offset="0.7536" stop-color="rgb(10,0,0)"/>
<stop offset="0.7571" stop-color="rgb(10,0,0)"/>
<stop offset="0.7607" stop-color="rgb(10,0,0)"/>
<stop offset="0.7643" stop-color="rgb(10,0,0)"/>
<stop offset="0.7679" stop-color="rgb(10,0,0)"/>
<stop offset="0.7714" stop-color="rgb(11,0,0)"/>
<stop offset="0.7750" stop-color="rgb(11,0,0)"/>
<stop offset="0.7786" stop-color="rgb(13,0,0)"/>
<stop offset="0.7821" stop-color="rgb(14,0,0)"/>
<stop offset="0.7857" stop-color="rgb(16,0,0)"/>
<stop offset="0.7893" stop-color="rgb(18,0,0)"/>
<stop offset="0.7929" stop-color="rgb(20,0,0)"/>
<stop offset="0.7964" stop-color="rgb(21,0,0)"/>
<stop offset="0.8000" stop-color="rgb(22,0,0)"/>
<stop offset="0.8036" stop-color="rgb(21,0,0)"/>
<stop offset="0.8071" stop-color="rgb(20,0,0)"/>
<stop offset="0.8107" stop-color="rgb(18,0,0)"/>
<stop offset="0.8143" stop-color="rgb(15,0,0)"/>
<stop offset="0.8179" stop-color="rgb(13,0,0)"/>
<stop offset="0.8214" stop-color="rgb(11,0,0)"/>
<stop offset="0.8250" stop-color="rgb(10,0,0)"/>
<stop offset="0.8286" stop-color="rgb(9,0,0)"/>
<stop offset="0.8321" stop-color="rgb(9,0,0)"/>
<stop offset="0.8357" stop-color="rgb(8,0,0)"/>
<stop offset="0.8393" stop-color="rgb(8,0,0)"/>
<stop offset="0.8429" stop-color="rgb(8,0,0)"/>
<stop offset="0.8464" stop-color="rgb(8,0,0)"/>
<stop offset="0.8500" stop-color="rgb(8,0,0)"/>
<stop offset="0.8536" stop-color="rgb(8,0,0)"/>
<stop offset="0.8571" stop-color="rgb(7,0,0)"/>
<stop offset="0.8607" stop-color="rgb(7,0,0)"/>
<stop offset="0.8643" stop-color="rgb(7,0,0)"/>
<stop offset="0.8679" stop-color="rgb(7,0,0)"/>
<stop offset="0.8714" stop-color="rgb(7,0,0)"/>
<stop offset="0.8750" stop-color="rgb(7,0,0)"/>
<stop offset="0.8786" stop-color="rgb(7,0,0)"/>
<stop offset="0.8821" stop-color="rgb(7,0,0)"/>
<stop offset="0.8857" stop-color="rgb(8,0,0)"/>
<stop offset="0.8893" stop-color="rgb(8,0,0)"/>
<stop offset="0.8929" stop-color="rgb(9,0,0)"/>
<stop offset="0.8964" stop-color="rgb(10,0,0)"/>
<stop offset="0.9000" stop-color="rgb(12,0,0)"/>
<stop offset="0.9036" stop-color="rgb(14,0,0)"/>
<stop offset="0.9071" stop-color="rgb(15,0,0)"/>
<stop offset="0.9107" stop-color="rgb(16,0,0)"/>
<stop offset="0.9143" stop-color="rgb(16,0,0)"/>
<stop offset="0.9179" stop-color="rgb(16,0,0)"/>
<stop offset="0.9214" stop-color="rgb(15,0,0)"/>
<stop offset="0.9250" stop-color="rgb(13,0,0)"/>
<stop offset="0.9286" stop-color="rgb(11,0,0)"/>
<stop offset="0.9321" stop-color="rgb(10,0,0)"/>
<stop offset="0.9357" stop-color="rgb(8,0,0)"/>
<stop offset="0.9393" stop-color="rgb(7,0,0)"/>
<stop offset="0.9429" stop-color="rgb(7,0,0)"/>
<stop offset="0.9464" stop-color="rgb(6,0,0)"/>
<stop offset="0.9500" stop-color="rgb(6,0,0)"/>
<stop offset="0.9536" stop-color="rgb(6,0,0)"/>
<stop offset="0.9571" stop-color="rgb(6,0,0)"/>
<stop offset="0.9607" stop-color="rgb(6,0,0)"/>
<stop offset="0.9643" stop-color="rgb(6,0,0)"/>
<stop offset="0.9679" stop-color="rgb(5,0,0)"/>
<stop offset="0.9714" stop-color="rgb(5,0,0)"/>
<stop offset="0.9750" stop-color="rgb(5,0,0)"/>
<stop offset="0.9786" stop-color="rgb(5,0,0)"/>
<stop offset="0.9821" stop-color="rgb(5,0,0)"/>
<stop offset="0.9857" stop-color="rgb(5,0,0)"/>
<stop offset="0.9893" stop-color="rgb(5,0,0)"/>
<stop offset="0.9929" stop-color="rgb(5,0,0)"/>
<stop offset="0.9964" stop-color="rgb(5,0,0)"/>
<stop offset="1.0000" stop-color="rgb(5,0,0)"/>
</radialGradient>
<radialGradient id="gi" gradientUnits="userSpaceOnUse" cx="345.3" cy="683.2" r="140">
<stop offset="0.0000" stop-color="rgb(255,71,64)"/>
<stop offset="0.0036" stop-color="rgb(249,67,61)"/>
<stop offset="0.0071" stop-color="rgb(231,57,51)"/>
<stop offset="0.0107" stop-color="rgb(205,42,38)"/>
<stop offset="0.0143" stop-color="rgb(175,24,22)"/>
<stop offset="0.0179" stop-color="rgb(144,7,6)"/>
<stop offset="0.0214" stop-color="rgb(117,3,3)"/>
<stop offset="0.0250" stop-color="rgb(94,2,2)"/>
<stop offset="0.0286" stop-color="rgb(76,2,2)"/>
<stop offset="0.0321" stop-color="rgb(61,1,1)"/>
<stop offset="0.0357" stop-color="rgb(49,1,1)"/>
<stop offset="0.0393" stop-color="rgb(40,1,1)"/>
<stop offset="0.0429" stop-color="rgb(37,1,1)"/>
<stop offset="0.0464" stop-color="rgb(42,1,1)"/>
<stop offset="0.0500" stop-color="rgb(56,1,1)"/>
<stop offset="0.0536" stop-color="rgb(78,2,2)"/>
<stop offset="0.0571" stop-color="rgb(104,3,2)"/>
<stop offset="0.0607" stop-color="rgb(128,4,3)"/>
<stop offset="0.0643" stop-color="rgb(146,8,7)"/>
<stop offset="0.0679" stop-color="rgb(154,12,11)"/>
<stop offset="0.0714" stop-color="rgb(149,9,8)"/>
<stop offset="0.0750" stop-color="rgb(135,4,3)"/>
<stop offset="0.0786" stop-color="rgb(112,3,3)"/>
<stop offset="0.0821" stop-color="rgb(88,2,2)"/>
<stop offset="0.0857" stop-color="rgb(65,2,1)"/>
<stop offset="0.0893" stop-color="rgb(50,1,1)"/>
<stop offset="0.0929" stop-color="rgb(44,1,1)"/>
<stop offset="0.0964" stop-color="rgb(49,1,1)"/>
<stop offset="0.1000" stop-color="rgb(64,2,1)"/>
<stop offset="0.1036" stop-color="rgb(86,2,2)"/>
<stop offset="0.1071" stop-color="rgb(109,3,3)"/>
<stop offset="0.1107" stop-color="rgb(129,4,3)"/>
<stop offset="0.1143" stop-color="rgb(143,6,5)"/>
<stop offset="0.1179" stop-color="rgb(147,8,7)"/>
<stop offset="0.1214" stop-color="rgb(141,5,4)"/>
<stop offset="0.1250" stop-color="rgb(125,3,3)"/>
<stop offset="0.1286" stop-color="rgb(104,3,2)"/>
<stop offset="0.1321" stop-color="rgb(81,2,2)"/>
<stop offset="0.1357" stop-color="rgb(60,1,1)"/>
<stop offset="0.1393" stop-color="rgb(46,1,1)"/>
<stop offset="0.1429" stop-color="rgb(41,1,1)"/>
<stop offset="0.1464" stop-color="rgb(45,1,1)"/>
<stop offset="0.1500" stop-color="rgb(58,1,1)"/>
<stop offset="0.1536" stop-color="rgb(76,2,2)"/>
<stop offset="0.1571" stop-color="rgb(96,3,2)"/>
<stop offset="0.1607" stop-color="rgb(113,3,3)"/>
<stop offset="0.1643" stop-color="rgb(124,3,3)"/>
<stop offset="0.1679" stop-color="rgb(127,4,3)"/>
<stop offset="0.1714" stop-color="rgb(121,3,3)"/>
<stop offset="0.1750" stop-color="rgb(108,3,3)"/>
<stop offset="0.1786" stop-color="rgb(89,2,2)"/>
<stop offset="0.1821" stop-color="rgb(70,2,1)"/>
<stop offset="0.1857" stop-color="rgb(53,1,1)"/>
<stop offset="0.1893" stop-color="rgb(41,1,1)"/>
<stop offset="0.1929" stop-color="rgb(36,1,1)"/>
<stop offset="0.1964" stop-color="rgb(40,1,1)"/>
<stop offset="0.2000" stop-color="rgb(50,1,1)"/>
<stop offset="0.2036" stop-color="rgb(65,2,1)"/>
<stop offset="0.2071" stop-color="rgb(80,2,2)"/>
<stop offset="0.2107" stop-color="rgb(93,2,2)"/>
<stop offset="0.2143" stop-color="rgb(102,3,2)"/>
<stop offset="0.2179" stop-color="rgb(104,3,2)"/>
<stop offset="0.2214" stop-color="rgb(99,3,2)"/>
<stop offset="0.2250" stop-color="rgb(88,2,2)"/>
<stop offset="0.2286" stop-color="rgb(73,2,2)"/>
<stop offset="0.2321" stop-color="rgb(58,1,1)"/>
<stop offset="0.2357" stop-color="rgb(44,1,1)"/>
<stop offset="0.2393" stop-color="rgb(35,1,1)"/>
<stop offset="0.2429" stop-color="rgb(32,1,0)"/>
<stop offset="0.2464" stop-color="rgb(34,1,0)"/>
<stop offset="0.2500" stop-color="rgb(42,1,1)"/>
<stop offset="0.2536" stop-color="rgb(53,1,1)"/>
<stop offset="0.2571" stop-color="rgb(64,2,1)"/>
<stop offset="0.2607" stop-color="rgb(74,2,2)"/>
<stop offset="0.2643" stop-color="rgb(80,2,2)"/>
<stop offset="0.2679" stop-color="rgb(81,2,2)"/>
<stop offset="0.2714" stop-color="rgb(77,2,2)"/>
<stop offset="0.2750" stop-color="rgb(69,2,1)"/>
<stop offset="0.2786" stop-color="rgb(58,1,1)"/>
<stop offset="0.2821" stop-color="rgb(47,1,1)"/>
<stop offset="0.2857" stop-color="rgb(37,1,1)"/>
<stop offset="0.2893" stop-color="rgb(30,0,0)"/>
<stop offset="0.2929" stop-color="rgb(28,0,0)"/>
<stop offset="0.2964" stop-color="rgb(29,0,0)"/>
<stop offset="0.3000" stop-color="rgb(35,1,0)"/>
<stop offset="0.3036" stop-color="rgb(43,1,1)"/>
<stop offset="0.3071" stop-color="rgb(51,1,1)"/>
<stop offset="0.3107" stop-color="rgb(58,1,1)"/>
<stop offset="0.3143" stop-color="rgb(62,1,1)"/>
<stop offset="0.3179" stop-color="rgb(63,1,1)"/>
<stop offset="0.3214" stop-color="rgb(60,1,1)"/>
<stop offset="0.3250" stop-color="rgb(54,1,1)"/>
<stop offset="0.3286" stop-color="rgb(46,1,1)"/>
<stop offset="0.3321" stop-color="rgb(38,1,1)"/>
<stop offset="0.3357" stop-color="rgb(31,0,0)"/>
<stop offset="0.3393" stop-color="rgb(26,0,0)"/>
<stop offset="0.3429" stop-color="rgb(24,0,0)"/>
<stop offset="0.3464" stop-color="rgb(26,0,0)"/>
<stop offset="0.3500" stop-color="rgb(30,0,0)"/>
<stop offset="0.3536" stop-color="rgb(35,1,1)"/>
<stop offset="0.3571" stop-color="rgb(41,1,1)"/>
<stop offset="0.3607" stop-color="rgb(46,1,1)"/>
<stop offset="0.3643" stop-color="rgb(49,1,1)"/>
<stop offset="0.3679" stop-color="rgb(50,1,1)"/>
<stop offset="0.3714" stop-color="rgb(48,1,1)"/>
<stop offset="0.3750" stop-color="rgb(43,1,1)"/>
<stop offset="0.3786" stop-color="rgb(38,1,1)"/>
<stop offset="0.3821" stop-color="rgb(32,1,0)"/>
<stop offset="0.3857" stop-color="rgb(27,0,0)"/>
<stop offset="0.3893" stop-color="rgb(24,0,0)"/>
<stop offset="0.3929" stop-color="rgb(22,0,0)"/>
<stop offset="0.3964" stop-color="rgb(23,0,0)"/>
<stop offset="0.4000" stop-color="rgb(26,0,0)"/>
<stop offset="0.4036" stop-color="rgb(30,0,0)"/>
<stop offset="0.4071" stop-color="rgb(35,1,0)"/>
<stop offset="0.4107" stop-color="rgb(38,1,1)"/>
<stop offset="0.4143" stop-color="rgb(41,1,1)"/>
<stop offset="0.4179" stop-color="rgb(41,1,1)"/>
<stop offset="0.4214" stop-color="rgb(39,1,1)"/>
<stop offset="0.4250" stop-color="rgb(36,1,1)"/>
<stop offset="0.4286" stop-color="rgb(32,1,0)"/>
<stop offset="0.4321" stop-color="rgb(28,0,0)"/>
<stop offset="0.4357" stop-color="rgb(24,0,0)"/>
<stop offset="0.4393" stop-color="rgb(21,0,0)"/>
<stop offset="0.4429" stop-color="rgb(20,0,0)"/>
<stop offset="0.4464" stop-color="rgb(20,0,0)"/>
<stop offset="0.4500" stop-color="rgb(21,0,0)"/>
<stop offset="0.4536" stop-color="rgb(21,0,0)"/>
<stop offset="0.4571" stop-color="rgb(22,0,0)"/>
<stop offset="0.4607" stop-color="rgb(21,0,0)"/>
<stop offset="0.4643" stop-color="rgb(20,0,0)"/>
<stop offset="0.4679" stop-color="rgb(18,0,0)"/>
<stop offset="0.4714" stop-color="rgb(17,0,0)"/>
<stop offset="0.4750" stop-color="rgb(17,0,0)"/>
<stop offset="0.4786" stop-color="rgb(17,0,0)"/>
<stop offset="0.4821" stop-color="rgb(19,0,0)"/>
<stop offset="0.4857" stop-color="rgb(21,0,0)"/>
<stop offset="0.4893" stop-color="rgb(23,0,0)"/>
<stop offset="0.4929" stop-color="rgb(25,0,0)"/>
<stop offset="0.4964" stop-color="rgb(27,0,0)"/>
<stop offset="0.5000" stop-color="rgb(28,0,0)"/>
<stop offset="0.5036" stop-color="rgb(27,0,0)"/>
<stop offset="0.5071" stop-color="rgb(25,0,0)"/>
<stop offset="0.5107" stop-color="rgb(23,0,0)"/>
<stop offset="0.5143" stop-color="rgb(20,0,0)"/>
<stop offset="0.5179" stop-color="rgb(18,0,0)"/>
<stop offset="0.5214" stop-color="rgb(16,0,0)"/>
<stop offset="0.5250" stop-color="rgb(14,0,0)"/>
<stop offset="0.5286" stop-color="rgb(13,0,0)"/>
<stop offset="0.5321" stop-color="rgb(13,0,0)"/>
<stop offset="0.5357" stop-color="rgb(12,0,0)"/>
<stop offset="0.5393" stop-color="rgb(12,0,0)"/>
<stop offset="0.5429" stop-color="rgb(12,0,0)"/>
<stop offset="0.5464" stop-color="rgb(13,0,0)"/>
<stop offset="0.5500" stop-color="rgb(13,0,0)"/>
<stop offset="0.5536" stop-color="rgb(14,0,0)"/>
<stop offset="0.5571" stop-color="rgb(16,0,0)"/>
<stop offset="0.5607" stop-color="rgb(18,0,0)"/>
<stop offset="0.5643" stop-color="rgb(20,0,0)"/>
<stop offset="0.5679" stop-color="rgb(23,0,0)"/>
<stop offset="0.5714" stop-color="rgb(25,0,0)"/>
<stop offset="0.5750" stop-color="rgb(27,0,0)"/>
<stop offset="0.5786" stop-color="rgb(27,0,0)"/>
<stop offset="0.5821" stop-color="rgb(27,0,0)"/>
<stop offset="0.5857" stop-color="rgb(25,0,0)"/>
<stop offset="0.5893" stop-color="rgb(23,0,0)"/>
<stop offset="0.5929" stop-color="rgb(20,0,0)"/>
<stop offset="0.5964" stop-color="rgb(18,0,0)"/>
<stop offset="0.6000" stop-color="rgb(16,0,0)"/>
<stop offset="0.6036" stop-color="rgb(14,0,0)"/>
<stop offset="0.6071" stop-color="rgb(13,0,0)"/>
<stop offset="0.6107" stop-color="rgb(12,0,0)"/>
<stop offset="0.6143" stop-color="rgb(12,0,0)"/>
<stop offset="0.6179" stop-color="rgb(12,0,0)"/>
<stop offset="0.6214" stop-color="rgb(12,0,0)"/>
<stop offset="0.6250" stop-color="rgb(12,0,0)"/>
<stop offset="0.6286" stop-color="rgb(12,0,0)"/>
<stop offset="0.6321" stop-color="rgb(12,0,0)"/>
<stop offset="0.6357" stop-color="rgb(13,0,0)"/>
<stop offset="0.6393" stop-color="rgb(13,0,0)"/>
<stop offset="0.6429" stop-color="rgb(15,0,0)"/>
<stop offset="0.6464" stop-color="rgb(16,0,0)"/>
<stop offset="0.6500" stop-color="rgb(18,0,0)"/>
<stop offset="0.6536" stop-color="rgb(20,0,0)"/>
<stop offset="0.6571" stop-color="rgb(22,0,0)"/>
<stop offset="0.6607" stop-color="rgb(24,0,0)"/>
<stop offset="0.6643" stop-color="rgb(24,0,0)"/>
<stop offset="0.6679" stop-color="rgb(24,0,0)"/>
<stop offset="0.6714" stop-color="rgb(22,0,0)"/>
<stop offset="0.6750" stop-color="rgb(20,0,0)"/>
<stop offset="0.6786" stop-color="rgb(18,0,0)"/>
<stop offset="0.6821" stop-color="rgb(16,0,0)"/>
<stop offset="0.6857" stop-color="rgb(14,0,0)"/>
<stop offset="0.6893" stop-color="rgb(13,0,0)"/>
<stop offset="0.6929" stop-color="rgb(12,0,0)"/>
<stop offset="0.6964" stop-color="rgb(12,0,0)"/>
<stop offset="0.7000" stop-color="rgb(11,0,0)"/>
<stop offset="0.7036" stop-color="rgb(11,0,0)"/>
<stop offset="0.7071" stop-color="rgb(11,0,0)"/>
<stop offset="0.7107" stop-color="rgb(11,0,0)"/>
<stop offset="0.7143" stop-color="rgb(11,0,0)"/>
<stop offset="0.7179" stop-color="rgb(11,0,0)"/>
<stop offset="0.7214" stop-color="rgb(11,0,0)"/>
<stop offset="0.7250" stop-color="rgb(11,0,0)"/>
<stop offset="0.7286" stop-color="rgb(12,0,0)"/>
<stop offset="0.7321" stop-color="rgb(12,0,0)"/>
<stop offset="0.7357" stop-color="rgb(14,0,0)"/>
<stop offset="0.7393" stop-color="rgb(15,0,0)"/>
<stop offset="0.7429" stop-color="rgb(17,0,0)"/>
<stop offset="0.7464" stop-color="rgb(19,0,0)"/>
<stop offset="0.7500" stop-color="rgb(21,0,0)"/>
<stop offset="0.7536" stop-color="rgb(22,0,0)"/>
<stop offset="0.7571" stop-color="rgb(23,0,0)"/>
<stop offset="0.7607" stop-color="rgb(22,0,0)"/>
<stop offset="0.7643" stop-color="rgb(21,0,0)"/>
<stop offset="0.7679" stop-color="rgb(19,0,0)"/>
<stop offset="0.7714" stop-color="rgb(16,0,0)"/>
<stop offset="0.7750" stop-color="rgb(14,0,0)"/>
<stop offset="0.7786" stop-color="rgb(13,0,0)"/>
<stop offset="0.7821" stop-color="rgb(11,0,0)"/>
<stop offset="0.7857" stop-color="rgb(10,0,0)"/>
<stop offset="0.7893" stop-color="rgb(10,0,0)"/>
<stop offset="0.7929" stop-color="rgb(9,0,0)"/>
<stop offset="0.7964" stop-color="rgb(9,0,0)"/>
<stop offset="0.8000" stop-color="rgb(9,0,0)"/>
<stop offset="0.8036" stop-color="rgb(9,0,0)"/>
<stop offset="0.8071" stop-color="rgb(9,0,0)"/>
<stop offset="0.8107" stop-color="rgb(9,0,0)"/>
<stop offset="0.8143" stop-color="rgb(9,0,0)"/>
<stop offset="0.8179" stop-color="rgb(9,0,0)"/>
<stop offset="0.8214" stop-color="rgb(9,0,0)"/>
<stop offset="0.8250" stop-color="rgb(9,0,0)"/>
<stop offset="0.8286" stop-color="rgb(9,0,0)"/>
<stop offset="0.8321" stop-color="rgb(10,0,0)"/>
<stop offset="0.8357" stop-color="rgb(10,0,0)"/>
<stop offset="0.8393" stop-color="rgb(12,0,0)"/>
<stop offset="0.8429" stop-color="rgb(13,0,0)"/>
<stop offset="0.8464" stop-color="rgb(15,0,0)"/>
<stop offset="0.8500" stop-color="rgb(16,0,0)"/>
<stop offset="0.8536" stop-color="rgb(17,0,0)"/>
<stop offset="0.8571" stop-color="rgb(18,0,0)"/>
<stop offset="0.8607" stop-color="rgb(17,0,0)"/>
<stop offset="0.8643" stop-color="rgb(16,0,0)"/>
<stop offset="0.8679" stop-color="rgb(14,0,0)"/>
<stop offset="0.8714" stop-color="rgb(13,0,0)"/>
<stop offset="0.8750" stop-color="rgb(11,0,0)"/>
<stop offset="0.8786" stop-color="rgb(9,0,0)"/>
<stop offset="0.8821" stop-color="rgb(8,0,0)"/>
<stop offset="0.8857" stop-color="rgb(8,0,0)"/>
<stop offset="0.8893" stop-color="rgb(7,0,0)"/>
<stop offset="0.8929" stop-color="rgb(7,0,0)"/>
<stop offset="0.8964" stop-color="rgb(7,0,0)"/>
<stop offset="0.9000" stop-color="rgb(7,0,0)"/>
<stop offset="0.9036" stop-color="rgb(6,0,0)"/>
<stop offset="0.9071" stop-color="rgb(6,0,0)"/>
<stop offset="0.9107" stop-color="rgb(6,0,0)"/>
<stop offset="0.9143" stop-color="rgb(6,0,0)"/>
<stop offset="0.9179" stop-color="rgb(6,0,0)"/>
<stop offset="0.9214" stop-color="rgb(6,0,0)"/>
<stop offset="0.9250" stop-color="rgb(6,0,0)"/>
<stop offset="0.9286" stop-color="rgb(6,0,0)"/>
<stop offset="0.9321" stop-color="rgb(6,0,0)"/>
<stop offset="0.9357" stop-color="rgb(6,0,0)"/>
<stop offset="0.9393" stop-color="rgb(6,0,0)"/>
<stop offset="0.9429" stop-color="rgb(6,0,0)"/>
<stop offset="0.9464" stop-color="rgb(6,0,0)"/>
<stop offset="0.9500" stop-color="rgb(6,0,0)"/>
<stop offset="0.9536" stop-color="rgb(6,0,0)"/>
<stop offset="0.9571" stop-color="rgb(6,0,0)"/>
<stop offset="0.9607" stop-color="rgb(6,0,0)"/>
<stop offset="0.9643" stop-color="rgb(6,0,0)"/>
<stop offset="0.9679" stop-color="rgb(5,0,0)"/>
<stop offset="0.9714" stop-color="rgb(5,0,0)"/>
<stop offset="0.9750" stop-color="rgb(5,0,0)"/>
<stop offset="0.9786" stop-color="rgb(5,0,0)"/>
<stop offset="0.9821" stop-color="rgb(5,0,0)"/>
<stop offset="0.9857" stop-color="rgb(5,0,0)"/>
<stop offset="0.9893" stop-color="rgb(5,0,0)"/>
<stop offset="0.9929" stop-color="rgb(5,0,0)"/>
<stop offset="0.9964" stop-color="rgb(5,0,0)"/>
<stop offset="1.0000" stop-color="rgb(5,0,0)"/>
</radialGradient>
<radialGradient id="gj" gradientUnits="userSpaceOnUse" cx="564.9" cy="685.6" r="140">
<stop offset="0.0000" stop-color="rgb(149,9,8)"/>
<stop offset="0.0036" stop-color="rgb(146,8,7)"/>
<stop offset="0.0071" stop-color="rgb(138,4,3)"/>
<stop offset="0.0107" stop-color="rgb(126,3,3)"/>
<stop offset="0.0143" stop-color="rgb(112,3,3)"/>
<stop offset="0.0179" stop-color="rgb(96,3,2)"/>
<stop offset="0.0214" stop-color="rgb(80,2,2)"/>
<stop offset="0.0250" stop-color="rgb(65,2,1)"/>
<stop offset="0.0286" stop-color="rgb(52,1,1)"/>
<stop offset="0.0321" stop-color="rgb(41,1,1)"/>
<stop offset="0.0357" stop-color="rgb(31,1,0)"/>
<stop offset="0.0393" stop-color="rgb(24,0,0)"/>
<stop offset="0.0429" stop-color="rgb(19,0,0)"/>
<stop offset="0.0464" stop-color="rgb(17,0,0)"/>
<stop offset="0.0500" stop-color="rgb(19,0,0)"/>
<stop offset="0.0536" stop-color="rgb(23,0,0)"/>
<stop offset="0.0571" stop-color="rgb(31,0,0)"/>
<stop offset="0.0607" stop-color="rgb(40,1,1)"/>
<stop offset="0.0643" stop-color="rgb(49,1,1)"/>
<stop offset="0.0679" stop-color="rgb(56,1,1)"/>
<stop offset="0.0714" stop-color="rgb(60,1,1)"/>
<stop offset="0.0750" stop-color="rgb(59,1,1)"/>
<stop offset="0.0786" stop-color="rgb(55,1,1)"/>
<stop offset="0.0821" stop-color="rgb(47,1,1)"/>
<stop offset="0.0857" stop-color="rgb(38,1,1)"/>
<stop offset="0.0893" stop-color="rgb(29,0,0)"/>
<stop offset="0.0929" stop-color="rgb(22,0,0)"/>
<stop offset="0.0964" stop-color="rgb(18,0,0)"/>
<stop offset="0.1000" stop-color="rgb(18,0,0)"/>
<stop offset="0.1036" stop-color="rgb(22,0,0)"/>
<stop offset="0.1071" stop-color="rgb(29,0,0)"/>
<stop offset="0.1107" stop-color="rgb(37,1,1)"/>
<stop offset="0.1143" stop-color="rgb(46,1,1)"/>
<stop offset="0.1179" stop-color="rgb(53,1,1)"/>
<stop offset="0.1214" stop-color="rgb(58,1,1)"/>
<stop offset="0.1250" stop-color="rgb(59,1,1)"/>
<stop offset="0.1286" stop-color="rgb(57,1,1)"/>
<stop offset="0.1321" stop-color="rgb(51,1,1)"/>
<stop offset="0.1357" stop-color="rgb(44,1,1)"/>
<stop offset="0.1393" stop-color="rgb(35,1,1)"/>
<stop offset="0.1429" stop-color="rgb(27,0,0)"/>
<stop offset="0.1464" stop-color="rgb(21,0,0)"/>
<stop offset="0.1500" stop-color="rgb(17,0,0)"/>
<stop offset="0.1536" stop-color="rgb(17,0,0)"/>
<stop offset="0.1571" stop-color="rgb(20,0,0)"/>
<stop offset="0.1607" stop-color="rgb(26,0,0)"/>
<stop offset="0.1643" stop-color="rgb(33,1,0)"/>
<stop offset="0.1679" stop-color="rgb(40,1,1)"/>
<stop offset="0.1714" stop-color="rgb(47,1,1)"/>
<stop offset="0.1750" stop-color="rgb(50,1,1)"/>
<stop offset="0.1786" stop-color="rgb(51,1,1)"/>
<stop offset="0.1821" stop-color="rgb(49,1,1)"/>
<stop offset="0.1857" stop-color="rgb(45,1,1)"/>
<stop offset="0.1893" stop-color="rgb(38,1,1)"/>
<stop offset="0.1929" stop-color="rgb(31,0,0)"/>
<stop offset="0.1964" stop-color="rgb(24,0,0)"/>
<stop offset="0.2000" stop-color="rgb(19,0,0)"/>
<stop offset="0.2036" stop-color="rgb(16,0,0)"/>
<stop offset="0.2071" stop-color="rgb(16,0,0)"/>
<stop offset="0.2107" stop-color="rgb(19,0,0)"/>
<stop offset="0.2143" stop-color="rgb(24,0,0)"/>
<stop offset="0.2179" stop-color="rgb(29,0,0)"/>
<stop offset="0.2214" stop-color="rgb(35,1,1)"/>
<stop offset="0.2250" stop-color="rgb(40,1,1)"/>
<stop offset="0.2286" stop-color="rgb(43,1,1)"/>
<stop offset="0.2321" stop-color="rgb(44,1,1)"/>
<stop offset="0.2357" stop-color="rgb(42,1,1)"/>
<stop offset="0.2393" stop-color="rgb(38,1,1)"/>
<stop offset="0.2429" stop-color="rgb(33,1,0)"/>
<stop offset="0.2464" stop-color="rgb(27,0,0)"/>
<stop offset="0.2500" stop-color="rgb(22,0,0)"/>
<stop offset="0.2536" stop-color="rgb(18,0,0)"/>
<stop offset="0.2571" stop-color="rgb(15,0,0)"/>
<stop offset="0.2607" stop-color="rgb(15,0,0)"/>
<stop offset="0.2643" stop-color="rgb(17,0,0)"/>
<stop offset="0.2679" stop-color="rgb(21,0,0)"/>
<stop offset="0.2714" stop-color="rgb(25,0,0)"/>
<stop offset="0.2750" stop-color="rgb(30,0,0)"/>
<stop offset="0.2786" stop-color="rgb(34,1,0)"/>
<stop offset="0.2821" stop-color="rgb(36,1,1)"/>
<stop offset="0.2857" stop-color="rgb(36,1,1)"/>
<stop offset="0.2893" stop-color="rgb(35,1,0)"/>
<stop offset="0.2929" stop-color="rgb(32,1,0)"/>
<stop offset="0.2964" stop-color="rgb(28,0,0)"/>
<stop offset="0.3000" stop-color="rgb(23,0,0)"/>
<stop offset="0.3036" stop-color="rgb(19,0,0)"/>
<stop offset="0.3071" stop-color="rgb(16,0,0)"/>
<stop offset="0.3107" stop-color="rgb(14,0,0)"/>
<stop offset="0.3143" stop-color="rgb(14,0,0)"/>
<stop offset="0.3179" stop-color="rgb(16,0,0)"/>
<stop offset="0.3214" stop-color="rgb(18,0,0)"/>
<stop offset="0.3250" stop-color="rgb(21,0,0)"/>
<stop offset="0.3286" stop-color="rgb(24,0,0)"/>
<stop offset="0.3321" stop-color="rgb(26,0,0)"/>
<stop offset="0.3357" stop-color="rgb(26,0,0)"/>
<stop offset="0.3393" stop-color="rgb(26,0,0)"/>
<stop offset="0.3429" stop-color="rgb(24,0,0)"/>
<stop offset="0.3464" stop-color="rgb(21,0,0)"/>
<stop offset="0.3500" stop-color="rgb(18,0,0)"/>
<stop offset="0.3536" stop-color="rgb(15,0,0)"/>
<stop offset="0.3571" stop-color="rgb(13,0,0)"/>
<stop offset="0.3607" stop-color="rgb(11,0,0)"/>
<stop offset="0.3643" stop-color="rgb(10,0,0)"/>
<stop offset="0.3679" stop-color="rgb(10,0,0)"/>
<stop offset="0.3714" stop-color="rgb(10,0,0)"/>
<stop offset="0.3750" stop-color="rgb(10,0,0)"/>
<stop offset="0.3786" stop-color="rgb(10,0,0)"/>
<stop offset="0.3821" stop-color="rgb(10,0,0)"/>
<stop offset="0.3857" stop-color="rgb(9,0,0)"/>
<stop offset="0.3893" stop-color="rgb(9,0,0)"/>
<stop offset="0.3929" stop-color="rgb(9,0,0)"/>
<stop offset="0.3964" stop-color="rgb(9,0,0)"/>
<stop offset="0.4000" stop-color="rgb(9,0,0)"/>
<stop offset="0.4036" stop-color="rgb(9,0,0)"/>
<stop offset="0.4071" stop-color="rgb(9,0,0)"/>
<stop offset="0.4107" stop-color="rgb(9,0,0)"/>
<stop offset="0.4143" stop-color="rgb(9,0,0)"/>
<stop offset="0.4179" stop-color="rgb(9,0,0)"/>
<stop offset="0.4214" stop-color="rgb(9,0,0)"/>
<stop offset="0.4250" stop-color="rgb(10,0,0)"/>
<stop offset="0.4286" stop-color="rgb(11,0,0)"/>
<stop offset="0.4321" stop-color="rgb(12,0,0)"/>
<stop offset="0.4357" stop-color="rgb(14,0,0)"/>
<stop offset="0.4393" stop-color="rgb(16,0,0)"/>
<stop offset="0.4429" stop-color="rgb(17,0,0)"/>
<stop offset="0.4464" stop-color="rgb(18,0,0)"/>
<stop offset="0.4500" stop-color="rgb(19,0,0)"/>
<stop offset="0.4536" stop-color="rgb(18,0,0)"/>
<stop offset="0.4571" stop-color="rgb(17,0,0)"/>
<stop offset="0.4607" stop-color="rgb(15,0,0)"/>
<stop offset="0.4643" stop-color="rgb(14,0,0)"/>
<stop offset="0.4679" stop-color="rgb(12,0,0)"/>
<stop offset="0.4714" stop-color="rgb(11,0,0)"/>
<stop offset="0.4750" stop-color="rgb(10,0,0)"/>
<stop offset="0.4786" stop-color="rgb(9,0,0)"/>
<stop offset="0.4821" stop-color="rgb(9,0,0)"/>
<stop offset="0.4857" stop-color="rgb(9,0,0)"/>
<stop offset="0.4893" stop-color="rgb(8,0,0)"/>
<stop offset="0.4929" stop-color="rgb(9,0,0)"/>
<stop offset="0.4964" stop-color="rgb(9,0,0)"/>
<stop offset="0.5000" stop-color="rgb(9,0,0)"/>
<stop offset="0.5036" stop-color="rgb(10,0,0)"/>
<stop offset="0.5071" stop-color="rgb(10,0,0)"/>
<stop offset="0.5107" stop-color="rgb(12,0,0)"/>
<stop offset="0.5143" stop-color="rgb(13,0,0)"/>
<stop offset="0.5179" stop-color="rgb(15,0,0)"/>
<stop offset="0.5214" stop-color="rgb(16,0,0)"/>
<stop offset="0.5250" stop-color="rgb(17,0,0)"/>
<stop offset="0.5286" stop-color="rgb(17,0,0)"/>
<stop offset="0.5321" stop-color="rgb(17,0,0)"/>
<stop offset="0.5357" stop-color="rgb(16,0,0)"/>
<stop offset="0.5393" stop-color="rgb(14,0,0)"/>
<stop offset="0.5429" stop-color="rgb(13,0,0)"/>
<stop offset="0.5464" stop-color="rgb(12,0,0)"/>
<stop offset="0.5500" stop-color="rgb(10,0,0)"/>
<stop offset="0.5536" stop-color="rgb(9,0,0)"/>
<stop offset="0.5571" stop-color="rgb(9,0,0)"/>
<stop offset="0.5607" stop-color="rgb(9,0,0)"/>
<stop offset="0.5643" stop-color="rgb(8,0,0)"/>
<stop offset="0.5679" stop-color="rgb(8,0,0)"/>
<stop offset="0.5714" stop-color="rgb(8,0,0)"/>
<stop offset="0.5750" stop-color="rgb(8,0,0)"/>
<stop offset="0.5786" stop-color="rgb(8,0,0)"/>
<stop offset="0.5821" stop-color="rgb(8,0,0)"/>
<stop offset="0.5857" stop-color="rgb(9,0,0)"/>
<stop offset="0.5893" stop-color="rgb(9,0,0)"/>
<stop offset="0.5929" stop-color="rgb(10,0,0)"/>
<stop offset="0.5964" stop-color="rgb(11,0,0)"/>
<stop offset="0.6000" stop-color="rgb(12,0,0)"/>
<stop offset="0.6036" stop-color="rgb(13,0,0)"/>
<stop offset="0.6071" stop-color="rgb(15,0,0)"/>
<stop offset="0.6107" stop-color="rgb(15,0,0)"/>
<stop offset="0.6143" stop-color="rgb(16,0,0)"/>
<stop offset="0.6179" stop-color="rgb(15,0,0)"/>
<stop offset="0.6214" stop-color="rgb(14,0,0)"/>
<stop offset="0.6250" stop-color="rgb(13,0,0)"/>
<stop offset="0.6286" stop-color="rgb(12,0,0)"/>
<stop offset="0.6321" stop-color="rgb(11,0,0)"/>
<stop offset="0.6357" stop-color="rgb(10,0,0)"/>
<stop offset="0.6393" stop-color="rgb(9,0,0)"/>
<stop offset="0.6429" stop-color="rgb(8,0,0)"/>
<stop offset="0.6464" stop-color="rgb(8,0,0)"/>
<stop offset="0.6500" stop-color="rgb(8,0,0)"/>
<stop offset="0.6536" stop-color="rgb(8,0,0)"/>
<stop offset="0.6571" stop-color="rgb(8,0,0)"/>
<stop offset="0.6607" stop-color="rgb(8,0,0)"/>
<stop offset="0.6643" stop-color="rgb(8,0,0)"/>
<stop offset="0.6679" stop-color="rgb(8,0,0)"/>
<stop offset="0.6714" stop-color="rgb(8,0,0)"/>
<stop offset="0.6750" stop-color="rgb(8,0,0)"/>
<stop offset="0.6786" stop-color="rgb(8,0,0)"/>
<stop offset="0.6821" stop-color="rgb(8,0,0)"/>
<stop offset="0.6857" stop-color="rgb(9,0,0)"/>
<stop offset="0.6893" stop-color="rgb(10,0,0)"/>
<stop offset="0.6929" stop-color="rgb(11,0,0)"/>
<stop offset="0.6964" stop-color="rgb(12,0,0)"/>
<stop offset="0.7000" stop-color="rgb(13,0,0)"/>
<stop offset="0.7036" stop-color="rgb(13,0,0)"/>
<stop offset="0.7071" stop-color="rgb(14,0,0)"/>
<stop offset="0.7107" stop-color="rgb(13,0,0)"/>
<stop offset="0.7143" stop-color="rgb(12,0,0)"/>
<stop offset="0.7179" stop-color="rgb(11,0,0)"/>
<stop offset="0.7214" stop-color="rgb(10,0,0)"/>
<stop offset="0.7250" stop-color="rgb(9,0,0)"/>
<stop offset="0.7286" stop-color="rgb(8,0,0)"/>
<stop offset="0.7321" stop-color="rgb(8,0,0)"/>
<stop offset="0.7357" stop-color="rgb(7,0,0)"/>
<stop offset="0.7393" stop-color="rgb(7,0,0)"/>
<stop offset="0.7429" stop-color="rgb(7,0,0)"/>
<stop offset="0.7464" stop-color="rgb(7,0,0)"/>
<stop offset="0.7500" stop-color="rgb(7,0,0)"/>
<stop offset="0.7536" stop-color="rgb(6,0,0)"/>
<stop offset="0.7571" stop-color="rgb(6,0,0)"/>
<stop offset="0.7607" stop-color="rgb(6,0,0)"/>
<stop offset="0.7643" stop-color="rgb(6,0,0)"/>
<stop offset="0.7679" stop-color="rgb(6,0,0)"/>
<stop offset="0.7714" stop-color="rgb(6,0,0)"/>
<stop offset="0.7750" stop-color="rgb(6,0,0)"/>
<stop offset="0.7786" stop-color="rgb(6,0,0)"/>
<stop offset="0.7821" stop-color="rgb(6,0,0)"/>
<stop offset="0.7857" stop-color="rgb(6,0,0)"/>
<stop offset="0.7893" stop-color="rgb(6,0,0)"/>
<stop offset="0.7929" stop-color="rgb(6,0,0)"/>
<stop offset="0.7964" stop-color="rgb(6,0,0)"/>
<stop offset="0.8000" stop-color="rgb(6,0,0)"/>
<stop offset="0.8036" stop-color="rgb(6,0,0)"/>
<stop offset="0.8071" stop-color="rgb(5,0,0)"/>
<stop offset="0.8107" stop-color="rgb(5,0,0)"/>
<stop offset="0.8143" stop-color="rgb(5,0,0)"/>
<stop offset="0.8179" stop-color="rgb(5,0,0)"/>
<stop offset="0.8214" stop-color="rgb(5,0,0)"/>
<stop offset="0.8250" stop-color="rgb(5,0,0)"/>
<stop offset="0.8286" stop-color="rgb(5,0,0)"/>
<stop offset="0.8321" stop-color="rgb(5,0,0)"/>
<stop offset="0.8357" stop-color="rgb(5,0,0)"/>
<stop offset="0.8393" stop-color="rgb(5,0,0)"/>
<stop offset="0.8429" stop-color="rgb(5,0,0)"/>
<stop offset="0.8464" stop-color="rgb(5,0,0)"/>
<stop offset="0.8500" stop-color="rgb(5,0,0)"/>
<stop offset="0.8536" stop-color="rgb(5,0,0)"/>
<stop offset="0.8571" stop-color="rgb(5,0,0)"/>
<stop offset="0.8607" stop-color="rgb(5,0,0)"/>
<stop offset="0.8643" stop-color="rgb(5,0,0)"/>
<stop offset="0.8679" stop-color="rgb(5,0,0)"/>
<stop offset="0.8714" stop-color="rgb(5,0,0)"/>
<stop offset="0.8750" stop-color="rgb(4,0,0)"/>
<stop offset="0.8786" stop-color="rgb(4,0,0)"/>
<stop offset="0.8821" stop-color="rgb(4,0,0)"/>
<stop offset="0.8857" stop-color="rgb(4,0,0)"/>
<stop offset="0.8893" stop-color="rgb(4,0,0)"/>
<stop offset="0.8929" stop-color="rgb(4,0,0)"/>
<stop offset="0.8964" stop-color="rgb(4,0,0)"/>
<stop offset="0.9000" stop-color="rgb(4,0,0)"/>
<stop offset="0.9036" stop-color="rgb(4,0,0)"/>
<stop offset="0.9071" stop-color="rgb(4,0,0)"/>
<stop offset="0.9107" stop-color="rgb(4,0,0)"/>
<stop offset="0.9143" stop-color="rgb(4,0,0)"/>
<stop offset="0.9179" stop-color="rgb(4,0,0)"/>
<stop offset="0.9214" stop-color="rgb(4,0,0)"/>
<stop offset="0.9250" stop-color="rgb(4,0,0)"/>
<stop offset="0.9286" stop-color="rgb(4,0,0)"/>
<stop offset="0.9321" stop-color="rgb(4,0,0)"/>
<stop offset="0.9357" stop-color="rgb(4,0,0)"/>
<stop offset="0.9393" stop-color="rgb(4,0,0)"/>
<stop offset="0.9429" stop-color="rgb(4,0,0)"/>
<stop offset="0.9464" stop-color="rgb(4,0,0)"/>
<stop offset="0.9500" stop-color="rgb(4,0,0)"/>
<stop offset="0.9536" stop-color="rgb(4,0,0)"/>
<stop offset="0.9571" stop-color="rgb(4,0,0)"/>
<stop offset="0.9607" stop-color="rgb(4,0,0)"/>
<stop offset="0.9643" stop-color="rgb(4,0,0)"/>
<stop offset="0.9679" stop-color="rgb(4,0,0)"/>
<stop offset="0.9714" stop-color="rgb(4,0,0)"/>
<stop offset="0.9750" stop-color="rgb(4,0,0)"/>
<stop offset="0.9786" stop-color="rgb(4,0,0)"/>
<stop offset="0.9821" stop-color="rgb(4,0,0)"/>
<stop offset="0.9857" stop-color="rgb(4,0,0)"/>
<stop offset="0.9893" stop-color="rgb(4,0,0)"/>
<stop offset="0.9929" stop-color="rgb(4,0,0)"/>
<stop offset="0.9964" stop-color="rgb(4,0,0)"/>
<stop offset="1.0000" stop-color="rgb(4,0,0)"/>
</radialGradient></defs>
<line x1="125.50" y1="51.5" x2="125.50" y2="168.5" stroke="#e3e3e3" stroke-width="1"/>
<line x1="233.50" y1="51.5" x2="233.50" y2="168.5" stroke="#e3e3e3" stroke-width="1"/>
<line x1="367.50" y1="51.5" x2="367.50" y2="168.5" stroke="#e3e3e3" stroke-width="1"/>
<line x1="502.00" y1="51.5" x2="502.00" y2="168.5" stroke="#e3e3e3" stroke-width="1"/>
<line x1="636.50" y1="51.5" x2="636.50" y2="168.5" stroke="#e3e3e3" stroke-width="1"/>
<line x1="99.5" y1="145.5" x2="662.5" y2="145.5" stroke="#e3e3e3" stroke-width="1"/>
<line x1="99.5" y1="122.0" x2="662.5" y2="122.0" stroke="#e3e3e3" stroke-width="1"/>
<line x1="99.5" y1="98.5" x2="662.5" y2="98.5" stroke="#e3e3e3" stroke-width="1"/>
<line x1="99.5" y1="75.0" x2="662.5" y2="75.0" stroke="#e3e3e3" stroke-width="1"/>
<line x1="125.50" y1="168.5" x2="125.50" y2="163.5" stroke="#262626" stroke-width="1"/>
<line x1="125.50" y1="51.5" x2="125.50" y2="56.5" stroke="#262626" stroke-width="1"/>
<line x1="233.50" y1="168.5" x2="233.50" y2="163.5" stroke="#262626" stroke-width="1"/>
<line x1="233.50" y1="51.5" x2="233.50" y2="56.5" stroke="#262626" stroke-width="1"/>
<line x1="367.50" y1="168.5" x2="367.50" y2="163.5" stroke="#262626" stroke-width="1"/>
<line x1="367.50" y1="51.5" x2="367.50" y2="56.5" stroke="#262626" stroke-width="1"/>
<line x1="502.00" y1="168.5" x2="502.00" y2="163.5" stroke="#262626" stroke-width="1"/>
<line x1="502.00" y1="51.5" x2="502.00" y2="56.5" stroke="#262626" stroke-width="1"/>
<line x1="636.50" y1="168.5" x2="636.50" y2="163.5" stroke="#262626" stroke-width="1"/>
<line x1="636.50" y1="51.5" x2="636.50" y2="56.5" stroke="#262626" stroke-width="1"/>
<line x1="99.5" y1="168.5" x2="104.5" y2="168.5" stroke="#262626" stroke-width="1"/>
<line x1="662.5" y1="168.5" x2="657.5" y2="168.5" stroke="#262626" stroke-width="1"/>
<line x1="99.5" y1="145.5" x2="104.5" y2="145.5" stroke="#262626" stroke-width="1"/>
<line x1="662.5" y1="145.5" x2="657.5" y2="145.5" stroke="#262626" stroke-width="1"/>
<line x1="99.5" y1="122.0" x2="104.5" y2="122.0" stroke="#262626" stroke-width="1"/>
<line x1="662.5" y1="122.0" x2="657.5" y2="122.0" stroke="#262626" stroke-width="1"/>
<line x1="99.5" y1="98.5" x2="104.5" y2="98.5" stroke="#262626" stroke-width="1"/>
<line x1="662.5" y1="98.5" x2="657.5" y2="98.5" stroke="#262626" stroke-width="1"/>
<line x1="99.5" y1="75.0" x2="104.5" y2="75.0" stroke="#262626" stroke-width="1"/>
<line x1="662.5" y1="75.0" x2="657.5" y2="75.0" stroke="#262626" stroke-width="1"/>
<line x1="99.5" y1="51.5" x2="104.5" y2="51.5" stroke="#262626" stroke-width="1"/>
<line x1="662.5" y1="51.5" x2="657.5" y2="51.5" stroke="#262626" stroke-width="1"/>
<rect x="99.5" y="51.5" width="563.00" height="117.00" fill="none" stroke="#5a5a5a" stroke-width="1"/>
<path d="M125.50,122.2 V128.4 M121.90,122.2 H129.10 M121.90,128.4 H129.10" stroke="#ff2a2a" stroke-width="1.3" fill="none"/>
<path d="M152.40,122.2 V135.2 M148.80,122.2 H156.00 M148.80,135.2 H156.00" stroke="#ff2a2a" stroke-width="1.3" fill="none"/>
<path d="M179.29,91.6 V122.2 M175.69,91.6 H182.89 M175.69,122.2 H182.89" stroke="#ff2a2a" stroke-width="1.3" fill="none"/>
<path d="M206.19,88.6 V122.2 M202.59,88.6 H209.78 M202.59,122.2 H209.78" stroke="#ff2a2a" stroke-width="1.3" fill="none"/>
<path d="M233.08,122.2 V157.3 M229.48,122.2 H236.68 M229.48,157.3 H236.68" stroke="#ff2a2a" stroke-width="1.3" fill="none"/>
<path d="M259.98,121.6 V122.8 M256.38,121.6 H263.58 M256.38,122.8 H263.58" stroke="#ff2a2a" stroke-width="1.3" fill="none"/>
<path d="M286.87,122.1 V128.0 M283.27,122.1 H290.47 M283.27,128.0 H290.47" stroke="#ff2a2a" stroke-width="1.3" fill="none"/>
<path d="M313.76,105.3 V122.2 M310.16,105.3 H317.37 M310.16,122.2 H317.37" stroke="#ff2a2a" stroke-width="1.3" fill="none"/>
<path d="M340.66,98.2 V122.2 M337.06,98.2 H344.26 M337.06,122.2 H344.26" stroke="#ff2a2a" stroke-width="1.3" fill="none"/>
<path d="M367.56,93.5 V122.2 M363.95,93.5 H371.16 M363.95,122.2 H371.16" stroke="#ff2a2a" stroke-width="1.3" fill="none"/>
<path d="M394.45,122.2 V147.0 M390.85,122.2 H398.05 M390.85,147.0 H398.05" stroke="#ff2a2a" stroke-width="1.3" fill="none"/>
<path d="M421.34,101.5 V122.2 M417.74,101.5 H424.94 M417.74,122.2 H424.94" stroke="#ff2a2a" stroke-width="1.3" fill="none"/>
<path d="M448.24,104.3 V122.2 M444.64,104.3 H451.84 M444.64,122.2 H451.84" stroke="#ff2a2a" stroke-width="1.3" fill="none"/>
<path d="M475.13,122.2 V160.1 M471.53,122.2 H478.74 M471.53,160.1 H478.74" stroke="#ff2a2a" stroke-width="1.3" fill="none"/>
<path d="M502.03,122.1 V165.3 M498.43,122.1 H505.63 M498.43,165.3 H505.63" stroke="#ff2a2a" stroke-width="1.3" fill="none"/>
<path d="M528.92,121.5 V122.5 M525.32,121.5 H532.52 M525.32,122.5 H532.52" stroke="#ff2a2a" stroke-width="1.3" fill="none"/>
<path d="M555.82,70.0 V122.1 M552.22,70.0 H559.42 M552.22,122.1 H559.42" stroke="#ff2a2a" stroke-width="1.3" fill="none"/>
<path d="M582.71,122.1 V139.9 M579.11,122.1 H586.31 M579.11,139.9 H586.31" stroke="#ff2a2a" stroke-width="1.3" fill="none"/>
<path d="M609.61,112.8 V122.1 M606.01,112.8 H613.21 M606.01,122.1 H613.21" stroke="#ff2a2a" stroke-width="1.3" fill="none"/>
<path d="M636.50,122.1 V153.0 M632.90,122.1 H640.11 M632.90,153.0 H640.11" stroke="#ff2a2a" stroke-width="1.3" fill="none"/>
<polyline points="125.50,125.40 152.40,128.40 179.29,106.60 206.19,105.10 233.08,139.30 259.98,122.20 286.87,124.60 313.76,113.30 340.66,110.00 367.56,107.20 394.45,134.20 421.34,111.70 448.24,113.10 475.13,140.70 502.03,143.40 528.92,122.00 555.82,96.40 582.71,130.40 609.61,117.40 636.50,137.50" fill="none" stroke="#222" stroke-width="1.4" stroke-linejoin="round"/>
<line x1="587.2" y1="65" x2="622.3" y2="65" stroke="#222" stroke-width="1.4"/>
<path d="M604.7,76.8 V90.3 M601.1,76.8 H608.3 M601.1,90.3 H608.3" stroke="#ff2a2a" stroke-width="1.3" fill="none"/>
<text x="625.5" y="70.6" font-size="15.3" text-anchor="start" fill="#000" >Exp.</text>
<text x="625.5" y="88.8" font-size="15.3" text-anchor="start" fill="#000" >Error</text>
<text x="125.50" y="190.8" font-size="16.5" text-anchor="middle" fill="#000" >1</text>
<text x="233.50" y="190.8" font-size="16.5" text-anchor="middle" fill="#000" >5</text>
<text x="367.50" y="190.8" font-size="16.5" text-anchor="middle" fill="#000" >10</text>
<text x="502.00" y="190.8" font-size="16.5" text-anchor="middle" fill="#000" >15</text>
<text x="636.50" y="190.8" font-size="16.5" text-anchor="middle" fill="#000" >20</text>
<text x="92.6" y="174.20" font-size="16.5" text-anchor="end" fill="#000" >10.02</text>
<text x="92.6" y="151.20" font-size="16.5" text-anchor="end" fill="#000" >10.03</text>
<text x="92.6" y="127.70" font-size="16.5" text-anchor="end" fill="#000" >10.04</text>
<text x="92.6" y="104.20" font-size="16.5" text-anchor="end" fill="#000" >10.05</text>
<text x="92.6" y="80.70" font-size="16.5" text-anchor="end" fill="#000" >10.06</text>
<text x="92.6" y="57.20" font-size="16.5" text-anchor="end" fill="#000" >10.07</text>
<text x="381" y="45" font-size="18.3" text-anchor="middle" fill="#000" >Experimental results</text>
<text x="381" y="212" font-size="18.3" text-anchor="middle" fill="#000" >Number of tests</text>
<text transform="translate(47.6,110.5) rotate(-90)" font-size="18.3" text-anchor="middle">Focal length(cm)</text>
<text x="21.5" y="31.5" font-size="19" text-anchor="start" fill="#000" >(a)</text>
<line x1="89.50" y1="362.0" x2="89.50" y2="359.8" stroke="#262626" stroke-width="1"/>
<line x1="89.50" y1="252.5" x2="89.50" y2="254.7" stroke="#262626" stroke-width="1"/>
<line x1="119.17" y1="362.0" x2="119.17" y2="359.8" stroke="#262626" stroke-width="1"/>
<line x1="119.17" y1="252.5" x2="119.17" y2="254.7" stroke="#262626" stroke-width="1"/>
<line x1="148.83" y1="362.0" x2="148.83" y2="359.8" stroke="#262626" stroke-width="1"/>
<line x1="148.83" y1="252.5" x2="148.83" y2="254.7" stroke="#262626" stroke-width="1"/>
<line x1="178.50" y1="362.0" x2="178.50" y2="359.8" stroke="#262626" stroke-width="1"/>
<line x1="178.50" y1="252.5" x2="178.50" y2="254.7" stroke="#262626" stroke-width="1"/>
<line x1="208.17" y1="362.0" x2="208.17" y2="359.8" stroke="#262626" stroke-width="1"/>
<line x1="208.17" y1="252.5" x2="208.17" y2="254.7" stroke="#262626" stroke-width="1"/>
<line x1="237.83" y1="362.0" x2="237.83" y2="359.8" stroke="#262626" stroke-width="1"/>
<line x1="237.83" y1="252.5" x2="237.83" y2="254.7" stroke="#262626" stroke-width="1"/>
<line x1="267.50" y1="362.0" x2="267.50" y2="359.8" stroke="#262626" stroke-width="1"/>
<line x1="267.50" y1="252.5" x2="267.50" y2="254.7" stroke="#262626" stroke-width="1"/>
<line x1="89.5" y1="252.50" x2="91.7" y2="252.50" stroke="#262626" stroke-width="1"/>
<line x1="267.5" y1="252.50" x2="265.3" y2="252.50" stroke="#262626" stroke-width="1"/>
<line x1="89.5" y1="307.25" x2="91.7" y2="307.25" stroke="#262626" stroke-width="1"/>
<line x1="267.5" y1="307.25" x2="265.3" y2="307.25" stroke="#262626" stroke-width="1"/>
<line x1="89.5" y1="362.00" x2="91.7" y2="362.00" stroke="#262626" stroke-width="1"/>
<line x1="267.5" y1="362.00" x2="265.3" y2="362.00" stroke="#262626" stroke-width="1"/>
<rect x="89.5" y="252.5" width="178.00" height="109.50" fill="none" stroke="#5a5a5a" stroke-width="1"/>
<polyline points="90.20,356.50 90.70,357.60 92.10,356.20 93.40,359.80 94.80,356.70 96.10,359.80 97.50,355.70 98.70,359.80 99.80,354.80 101.60,356.70 102.90,353.90 104.70,349.40 106.10,349.90 107.90,349.90 109.70,352.10 111.50,351.20 112.90,350.80 114.20,353.00 115.60,352.10 117.00,347.10 118.30,345.80 119.70,357.10 120.60,351.20 121.90,354.80 122.80,351.20 123.70,352.60 125.10,349.40 126.00,352.10 126.70,344.00 127.40,359.40 128.70,357.10 131.40,358.00 135.10,356.70 137.30,358.00 139.60,356.20 140.90,356.70 141.80,347.60 142.80,351.20 143.70,346.20 145.20,343.10 146.40,343.50 147.20,357.00 148.60,355.00 151.10,356.00 154.20,356.50 155.20,357.50 157.30,354.00 158.80,346.80 160.10,343.70 161.10,352.90 162.90,352.40 163.90,346.30 164.90,350.90 165.90,345.30 167.00,346.80 168.50,345.30 170.30,349.90 171.80,346.30 173.10,346.30 173.80,343.70 174.80,337.60 175.90,341.70 177.20,340.70 178.50,342.70 179.50,358.50 181.80,358.50 183.80,359.60 185.90,359.60 187.90,355.50 190.00,354.50 191.50,355.00 192.50,350.90 193.50,357.50 195.10,354.50 196.60,352.90 198.10,356.50 199.70,360.60 200.70,358.00 201.70,347.80 203.20,344.20 204.80,345.80" fill="none" stroke="#000" stroke-width="1.6" stroke-linejoin="round"/>
<path d="M204.80,345.80 C205.05,346.98 205.85,351.82 206.30,352.90 C206.75,353.98 207.05,352.87 207.50,352.30 C207.95,351.73 208.17,351.97 209.00,349.50 C209.83,347.03 211.30,341.47 212.50,337.50 C213.70,333.53 214.95,329.65 216.20,325.70 C217.45,321.75 218.83,318.00 220.00,313.80 C221.17,309.60 222.18,304.88 223.20,300.50 C224.22,296.12 225.15,292.00 226.10,287.50 C227.05,283.00 227.93,277.85 228.90,273.50 C229.87,269.15 230.92,264.65 231.90,261.40 C232.88,258.15 233.78,255.52 234.80,254.00 C235.82,252.48 236.97,252.20 238.00,252.30 C239.03,252.40 240.00,253.15 241.00,254.60 C242.00,256.05 243.00,258.53 244.00,261.00 C245.00,263.47 246.00,266.38 247.00,269.40 C248.00,272.42 249.00,275.62 250.00,279.10 C251.00,282.58 252.00,286.43 253.00,290.30 C254.00,294.17 255.00,298.32 256.00,302.30 C257.00,306.28 258.00,310.22 259.00,314.20 C260.00,318.18 261.00,322.40 262.00,326.20 C263.00,330.00 264.08,333.87 265.00,337.00 C265.92,340.13 267.08,343.67 267.50,345.00" fill="none" stroke="#000" stroke-width="1.7"/>
<path d="M89.50,361.90 C92.92,361.87 103.25,361.78 110.00,361.70 C116.75,361.62 123.33,361.52 130.00,361.40 C136.67,361.28 143.33,361.15 150.00,361.00 C156.67,360.85 164.17,360.70 170.00,360.50 C175.83,360.30 180.67,360.08 185.00,359.80 C189.33,359.52 193.17,359.17 196.00,358.80 C198.83,358.43 200.50,358.02 202.00,357.60 C203.50,357.18 203.75,357.13 205.00,356.30 C206.25,355.47 208.00,355.22 209.50,352.60 C211.00,349.98 212.75,344.58 214.00,340.60 C215.25,336.62 216.00,333.17 217.00,328.70 C218.00,324.23 218.97,318.67 220.00,313.80 C221.03,308.93 222.18,303.88 223.20,299.50 C224.22,295.12 225.15,291.83 226.10,287.50 C227.05,283.17 227.93,277.85 228.90,273.50 C229.87,269.15 230.95,264.62 231.90,261.40 C232.85,258.18 233.65,255.72 234.60,254.20 C235.55,252.68 236.60,252.20 237.60,252.30 C238.60,252.40 239.60,253.27 240.60,254.80 C241.60,256.33 242.57,258.90 243.60,261.50 C244.63,264.10 245.77,267.30 246.80,270.40 C247.83,273.50 248.80,276.62 249.80,280.10 C250.80,283.58 251.80,287.43 252.80,291.30 C253.80,295.17 254.80,299.32 255.80,303.30 C256.80,307.28 257.80,311.22 258.80,315.20 C259.80,319.18 260.80,323.45 261.80,327.20 C262.80,330.95 263.85,334.58 264.80,337.70 C265.75,340.82 267.05,344.53 267.50,345.90" fill="none" stroke="#ff1a1a" stroke-width="1.9"/>
<line x1="100.8" y1="270.5" x2="134.5" y2="270.5" stroke="#000" stroke-width="1.7"/>
<line x1="100.8" y1="289" x2="134.5" y2="289" stroke="#ff1a1a" stroke-width="1.9"/>
<text x="136.8" y="276.7" font-size="16.4" text-anchor="start" fill="#000" >Exp.</text>
<text x="136.8" y="295.1" font-size="16.4" text-anchor="start" fill="#000" >Sim.</text>
<text x="89.50" y="385" font-size="18.5" text-anchor="middle" fill="#000" >0</text>
<text x="119.17" y="385" font-size="18.5" text-anchor="middle" fill="#000" >2</text>
<text x="148.83" y="385" font-size="18.5" text-anchor="middle" fill="#000" >4</text>
<text x="178.50" y="385" font-size="18.5" text-anchor="middle" fill="#000" >6</text>
<text x="208.17" y="385" font-size="18.5" text-anchor="middle" fill="#000" >8</text>
<text x="237.83" y="385" font-size="18.5" text-anchor="middle" fill="#000" >10</text>
<text x="267.50" y="385" font-size="18.5" text-anchor="middle" fill="#000" >12</text>
<text x="82" y="258.8" font-size="18.5" text-anchor="end" fill="#000" >1</text>
<text x="82" y="313.5" font-size="18.5" text-anchor="end" fill="#000" >0.5</text>
<text x="82" y="368.2" font-size="18.5" text-anchor="end" fill="#000" >0</text>
<text x="179" y="405.3" font-size="18.3" text-anchor="middle" fill="#000" >z(cm)</text>
<text transform="translate(54.6,306.5) rotate(-90)" font-size="18" text-anchor="middle">Intensity(a.u.)</text>
<text x="21.3" y="242.2" font-size="18.4" text-anchor="start" fill="#000" >(b)</text>
<line x1="348.50" y1="362.5" x2="348.50" y2="360.3" stroke="#262626" stroke-width="1"/>
<line x1="348.50" y1="254.5" x2="348.50" y2="256.7" stroke="#262626" stroke-width="1"/>
<line x1="402.75" y1="362.5" x2="402.75" y2="360.3" stroke="#262626" stroke-width="1"/>
<line x1="402.75" y1="254.5" x2="402.75" y2="256.7" stroke="#262626" stroke-width="1"/>
<line x1="457.00" y1="362.5" x2="457.00" y2="360.3" stroke="#262626" stroke-width="1"/>
<line x1="457.00" y1="254.5" x2="457.00" y2="256.7" stroke="#262626" stroke-width="1"/>
<line x1="348.5" y1="254.50" x2="350.7" y2="254.50" stroke="#262626" stroke-width="1"/>
<line x1="457.0" y1="254.50" x2="454.8" y2="254.50" stroke="#262626" stroke-width="1"/>
<line x1="348.5" y1="308.50" x2="350.7" y2="308.50" stroke="#262626" stroke-width="1"/>
<line x1="457.0" y1="308.50" x2="454.8" y2="308.50" stroke="#262626" stroke-width="1"/>
<line x1="348.5" y1="362.50" x2="350.7" y2="362.50" stroke="#262626" stroke-width="1"/>
<line x1="457.0" y1="362.50" x2="454.8" y2="362.50" stroke="#262626" stroke-width="1"/>
<rect x="348.5" y="254.5" width="108.50" height="108.00" fill="none" stroke="#5a5a5a" stroke-width="1"/>
<path d="M348.60,347.00 C349.22,347.13 350.97,347.30 352.30,347.80 C353.63,348.30 355.40,349.92 356.60,350.00 C357.80,350.08 358.47,349.00 359.50,348.30 C360.53,347.60 361.67,345.87 362.80,345.80 C363.93,345.73 365.28,346.88 366.30,347.90 C367.32,348.92 368.17,350.13 368.90,351.90 C369.63,353.67 370.12,358.32 370.70,358.50 C371.28,358.68 371.68,354.28 372.40,353.00 C373.12,351.72 374.17,351.27 375.00,350.80 C375.83,350.33 376.52,350.60 377.40,350.20 C378.28,349.80 379.23,350.02 380.30,348.40 C381.37,346.78 382.63,342.55 383.80,340.50 C384.97,338.45 386.28,336.25 387.30,336.10 C388.32,335.95 389.08,337.55 389.90,339.60 C390.72,341.65 391.62,348.83 392.20,348.40 C392.78,347.97 392.75,344.02 393.40,337.00 C394.05,329.98 395.22,316.67 396.10,306.30 C396.98,295.93 397.83,282.93 398.70,274.80 C399.57,266.67 400.63,260.87 401.30,257.50 C401.97,254.13 402.20,254.60 402.70,254.60 C403.20,254.60 403.52,253.27 404.30,257.50 C405.08,261.73 406.43,269.82 407.40,280.00 C408.37,290.18 409.37,307.25 410.10,318.60 C410.83,329.95 411.33,340.95 411.80,348.10 C412.27,355.25 412.45,361.42 412.90,361.50 C413.35,361.58 413.80,352.32 414.50,348.60 C415.20,344.88 416.23,341.05 417.10,339.20 C417.97,337.35 418.68,336.93 419.70,337.50 C420.72,338.07 422.18,340.27 423.20,342.60 C424.22,344.93 425.07,348.63 425.80,351.50 C426.53,354.37 427.02,359.15 427.60,359.80 C428.18,360.45 428.42,356.43 429.30,355.40 C430.18,354.37 431.72,353.75 432.90,353.60 C434.08,353.45 435.10,354.78 436.40,354.50 C437.70,354.22 439.25,352.72 440.70,351.90 C442.15,351.08 443.63,349.90 445.10,349.60 C446.57,349.30 448.03,349.67 449.50,350.10 C450.97,350.53 452.65,351.62 453.90,352.20 C455.15,352.78 456.48,353.37 457.00,353.60" fill="none" stroke="#000" stroke-width="1.7"/>
<path d="M348.23,342.23 C348.90,342.73 350.86,345.50 352.26,345.21 C353.66,344.92 355.18,342.14 356.64,340.48 C358.10,338.82 359.70,335.13 361.02,335.22 C362.33,335.31 363.21,338.53 364.53,341.01 C365.84,343.49 367.45,349.04 368.91,350.12 C370.37,351.20 372.12,348.16 373.29,347.49 C374.46,346.82 374.89,345.71 375.91,346.09 C376.93,346.47 378.40,350.85 379.42,349.77 C380.44,348.69 381.09,342.70 382.05,339.60 C383.01,336.50 384.18,332.06 385.20,331.19 C386.22,330.31 387.25,332.36 388.18,334.35 C389.12,336.34 390.08,340.92 390.81,343.11 C391.54,345.30 391.98,348.66 392.56,347.49 C393.14,346.32 393.67,341.50 394.31,336.10 C394.95,330.70 395.68,322.96 396.41,315.08 C397.14,307.20 398.02,295.52 398.69,288.80 C399.36,282.08 399.86,277.85 400.44,274.78 C401.02,271.71 401.52,270.40 402.19,270.40 C402.86,270.40 403.74,271.71 404.47,274.78 C405.20,277.85 405.87,282.67 406.57,288.80 C407.27,294.93 407.95,303.69 408.68,311.57 C409.41,319.45 410.37,330.26 410.95,336.10 C411.53,341.94 411.74,346.03 412.18,346.61 C412.62,347.19 412.91,342.23 413.58,339.60 C414.25,336.97 415.19,333.32 416.21,330.84 C417.23,328.36 418.69,324.42 419.71,324.71 C420.73,325.00 421.46,329.68 422.34,332.60 C423.22,335.52 424.09,340.04 424.97,342.23 C425.85,344.42 426.58,345.30 427.60,345.74 C428.62,346.18 429.79,345.30 431.10,344.86 C432.41,344.42 434.02,343.84 435.48,343.11 C436.94,342.38 438.25,341.50 439.86,340.48 C441.47,339.46 443.81,336.98 445.12,336.98 C446.43,336.98 446.87,339.31 447.74,340.48 C448.62,341.65 448.85,343.48 450.37,343.98 C451.89,344.48 455.77,343.55 456.85,343.46" fill="none" stroke="#ff1a1a" stroke-width="1.9" stroke-dasharray="6.5 4.5"/>
<line x1="355.8" y1="267.6" x2="373.9" y2="267.6" stroke="#000" stroke-width="1.7"/>
<path d="M355.8,292.8 H363.1 M369.3,292.8 H374.1" stroke="#ff1a1a" stroke-width="1.9"/>
<text x="376.2" y="269.6" font-size="15" font-style="italic">z</text>
<text x="381.8" y="277.6" font-size="12" font-style="italic">f</text>
<text x="376.2" y="294.8" font-size="15" font-style="italic">z</text>
<text x="383.2" y="303.0" font-size="12" font-style="italic">c</text>
<text x="348.5" y="386.6" font-size="19.3" text-anchor="middle" fill="#000" >-200</text>
<text x="402.75" y="386.6" font-size="19.3" text-anchor="middle" fill="#000" >0</text>
<text x="457.0" y="386.6" font-size="19.3" text-anchor="middle" fill="#000" >200</text>
<text x="341.2" y="260.8" font-size="19.3" text-anchor="end" fill="#000" >1</text>
<text x="341.2" y="314.8" font-size="19.3" text-anchor="end" fill="#000" >0.5</text>
<text x="341.2" y="368.8" font-size="19.3" text-anchor="end" fill="#000" >0</text>
<text x="403" y="410" font-size="19.8" text-anchor="middle">x(<tspan font-style="italic">μ</tspan>m)</text>
<text transform="translate(310.8,310) rotate(-90)" font-size="19.7" text-anchor="middle">Intensity(a.u.)</text>
<text x="295.5" y="242.5" font-size="19" text-anchor="start" fill="#000" >(c)</text>
<line x1="543.50" y1="361.5" x2="543.50" y2="359.3" stroke="#262626" stroke-width="1"/>
<line x1="543.50" y1="253.5" x2="543.50" y2="255.7" stroke="#262626" stroke-width="1"/>
<line x1="597.70" y1="361.5" x2="597.70" y2="359.3" stroke="#262626" stroke-width="1"/>
<line x1="597.70" y1="253.5" x2="597.70" y2="255.7" stroke="#262626" stroke-width="1"/>
<line x1="651.80" y1="361.5" x2="651.80" y2="359.3" stroke="#262626" stroke-width="1"/>
<line x1="651.80" y1="253.5" x2="651.80" y2="255.7" stroke="#262626" stroke-width="1"/>
<line x1="543.5" y1="253.50" x2="545.7" y2="253.50" stroke="#262626" stroke-width="1"/>
<line x1="651.8" y1="253.50" x2="649.5999999999999" y2="253.50" stroke="#262626" stroke-width="1"/>
<line x1="543.5" y1="307.50" x2="545.7" y2="307.50" stroke="#262626" stroke-width="1"/>
<line x1="651.8" y1="307.50" x2="649.5999999999999" y2="307.50" stroke="#262626" stroke-width="1"/>
<line x1="543.5" y1="361.50" x2="545.7" y2="361.50" stroke="#262626" stroke-width="1"/>
<line x1="651.8" y1="361.50" x2="649.5999999999999" y2="361.50" stroke="#262626" stroke-width="1"/>
<rect x="543.5" y="253.5" width="108.30" height="108.00" fill="none" stroke="#5a5a5a" stroke-width="1"/>
<path d="M543.60,346.00 C544.17,345.97 545.97,345.42 547.00,345.80 C548.03,346.18 548.63,347.68 549.80,348.30 C550.97,348.92 552.57,350.13 554.00,349.50 C555.43,348.87 557.00,344.43 558.40,344.50 C559.80,344.57 561.20,348.10 562.40,349.90 C563.60,351.70 564.92,354.85 565.60,355.30 C566.28,355.75 565.77,353.47 566.50,352.60 C567.23,351.73 568.80,350.78 570.00,350.10 C571.20,349.42 572.40,349.75 573.70,348.50 C575.00,347.25 576.52,344.75 577.80,342.60 C579.08,340.45 580.50,336.65 581.40,335.60 C582.30,334.55 582.58,335.65 583.20,336.30 C583.82,336.95 584.47,337.75 585.10,339.50 C585.73,341.25 586.55,346.55 587.00,346.80 C587.45,347.05 587.37,344.38 587.80,341.00 C588.23,337.62 589.07,331.37 589.60,326.50 C590.13,321.63 590.45,317.20 591.00,311.80 C591.55,306.40 592.28,299.98 592.90,294.10 C593.52,288.22 594.15,281.77 594.70,276.50 C595.25,271.23 595.73,266.17 596.20,262.50 C596.67,258.83 597.07,255.25 597.50,254.50 C597.93,253.75 598.40,256.45 598.80,258.00 C599.20,259.55 599.35,260.23 599.90,263.80 C600.45,267.37 601.45,273.87 602.10,279.40 C602.75,284.93 603.27,291.60 603.80,297.00 C604.33,302.40 604.73,306.40 605.30,311.80 C605.87,317.20 606.68,324.20 607.20,329.40 C607.72,334.60 608.05,340.48 608.40,343.00 C608.75,345.52 608.68,345.42 609.30,344.50 C609.92,343.58 611.32,338.78 612.10,337.50 C612.88,336.22 613.42,336.73 614.00,336.80 C614.58,336.87 614.75,336.55 615.60,337.90 C616.45,339.25 618.12,342.72 619.10,344.90 C620.08,347.08 620.77,349.40 621.50,351.00 C622.23,352.60 622.72,354.08 623.50,354.50 C624.28,354.92 625.12,353.95 626.20,353.50 C627.28,353.05 628.85,351.73 630.00,351.80 C631.15,351.87 631.85,354.28 633.10,353.90 C634.35,353.52 636.18,350.37 637.50,349.50 C638.82,348.63 639.78,348.70 641.00,348.70 C642.22,348.70 643.02,348.88 644.80,349.50 C646.58,350.12 650.55,351.92 651.70,352.40" fill="none" stroke="#000" stroke-width="1.9" stroke-dasharray="6.5 5"/>
<polyline points="543.50,361.14 544.00,361.08 544.50,360.99 545.00,360.88 545.50,360.75 546.00,360.61 546.50,360.46 547.00,360.30 547.50,360.14 548.00,359.98 548.50,359.85 549.00,359.73 549.50,359.64 550.00,359.58 550.50,359.56 551.00,359.57 551.50,359.63 552.00,359.72 552.50,359.85 553.00,360.01 553.50,360.19 554.00,360.39 554.50,360.58 555.00,360.77 555.50,360.94 556.00,361.07 556.50,361.16 557.00,361.20 557.50,361.17 558.00,361.08 558.50,360.91 559.00,360.66 559.50,360.35 560.00,359.98 560.50,359.55 561.00,359.09 561.50,358.61 562.00,358.12 562.50,357.65 563.00,357.22 563.50,356.84 564.00,356.55 564.50,356.34 565.00,356.24 565.50,356.26 566.00,356.39 566.50,356.64 567.00,357.00 567.50,357.45 568.00,357.97 568.50,358.54 569.00,359.13 569.50,359.70 570.00,360.23 570.50,360.67 571.00,361.00 571.50,361.17 572.00,361.18 572.50,360.99 573.00,360.60 573.50,359.99 574.00,359.18 574.50,358.19 575.00,357.04 575.50,355.75 576.00,354.39 576.50,352.99 577.00,351.61 577.50,350.31 578.00,349.15 578.50,348.19 579.00,347.46 579.50,347.02 580.00,346.90 580.50,347.11 581.00,347.65 581.50,348.52 582.00,349.69 582.50,351.10 583.00,352.70 583.50,354.41 584.00,356.12 584.50,357.75 585.00,359.19 585.50,360.31 586.00,361.01 586.50,361.19 587.00,360.74 587.50,359.58 588.00,357.65 588.50,354.91 589.00,351.33 589.50,346.92 590.00,341.72 590.50,335.79 591.00,329.21 591.50,322.10 592.00,314.59 592.50,306.84 593.00,299.03 593.50,291.31 594.00,283.89 594.50,276.94 595.00,270.63 595.50,265.12 596.00,260.56 596.50,257.06 597.00,254.72 597.50,253.60 598.00,253.73 598.50,255.10 599.00,257.67 599.50,261.39 600.00,266.15 600.50,271.83 601.00,278.28 601.50,285.34 602.00,292.84 602.50,300.59 603.00,308.40 603.50,316.12 604.00,323.56 604.50,330.57 605.00,337.03 605.50,342.82 606.00,347.87 606.50,352.11 607.00,355.53 607.50,358.10 608.00,359.87 608.50,360.88 609.00,361.20 609.50,360.91 610.00,360.12 610.50,358.92 611.00,357.44 611.50,355.78 612.00,354.06 612.50,352.37 613.00,350.80 613.50,349.43 614.00,348.32 614.50,347.52 615.00,347.04 615.50,346.89 616.00,347.08 616.50,347.59 617.00,348.36 617.50,349.37 618.00,350.57 618.50,351.88 619.00,353.27 619.50,354.67 620.00,356.02 620.50,357.28 621.00,358.40 621.50,359.36 622.00,360.13 622.50,360.69 623.00,361.04 623.50,361.19 624.00,361.15 624.50,360.94 625.00,360.59 625.50,360.13 626.00,359.59 626.50,359.01 627.00,358.42 627.50,357.86 628.00,357.35 628.50,356.92 629.00,356.58 629.50,356.36 630.00,356.25 630.50,356.25 631.00,356.37 631.50,356.60 632.00,356.91 632.50,357.30 633.00,357.74 633.50,358.22 634.00,358.70 634.50,359.19 635.00,359.64 635.50,360.06 636.00,360.42 636.50,360.72 637.00,360.95 637.50,361.10 638.00,361.18 638.50,361.20 639.00,361.15 639.50,361.05 640.00,360.91 640.50,360.74 641.00,360.54 641.50,360.35 642.00,360.16 642.50,359.98 643.00,359.83 643.50,359.70 644.00,359.62 644.50,359.57 645.00,359.56 645.50,359.59 646.00,359.65 646.50,359.75 647.00,359.87 647.50,360.01 648.00,360.17 648.50,360.33 649.00,360.49 649.50,360.64 650.00,360.78 650.50,360.90 651.00,361.01 651.50,361.09" fill="none" stroke="#ff1a1a" stroke-width="1.9" stroke-linejoin="round"/>
<path d="M543,241.3 H550.6 M557.4,241.3 H561.6" stroke="#000" stroke-width="1.9"/>
<line x1="603.7" y1="241.3" x2="621.9" y2="241.3" stroke="#ff1a1a" stroke-width="1.9"/>
<text x="564.6" y="247.5" font-size="17.6" text-anchor="start" fill="#000" >Exp.</text>
<text x="624.6" y="247.5" font-size="17.6" text-anchor="start" fill="#000" >Sim.</text>
<text x="543.5" y="386.2" font-size="19.3" text-anchor="middle" fill="#000" >-200</text>
<text x="597.7" y="386.2" font-size="19.3" text-anchor="middle" fill="#000" >0</text>
<text x="651.8" y="386.2" font-size="19.3" text-anchor="middle" fill="#000" >200</text>
<text x="536.2" y="259.8" font-size="19.3" text-anchor="end" fill="#000" >1</text>
<text x="536.2" y="313.8" font-size="19.3" text-anchor="end" fill="#000" >0.5</text>
<text x="536.2" y="367.8" font-size="19.3" text-anchor="end" fill="#000" >0</text>
<text x="597.8" y="410" font-size="19.8" text-anchor="middle">x(<tspan font-style="italic">μ</tspan>m)</text>
<text transform="translate(505.9,307) rotate(-90)" font-size="19.2" text-anchor="middle">Intensity(a.u.)</text>
<text x="492.8" y="242.5" font-size="19" text-anchor="start" fill="#000" >(d)</text>
<rect x="16" y="429" width="212.90" height="160.80" fill="url(#ge)"/>
<polyline points="16.50,512.27 17.50,512.76 18.50,512.69 19.50,512.31 20.50,512.48 21.50,512.49 22.50,512.67 23.50,512.80 24.50,512.32 25.50,512.29 26.50,512.85 27.50,512.56 28.50,512.77 29.50,512.18 30.50,512.40 31.50,512.51 32.50,512.14 33.50,512.59 34.50,512.47 35.50,511.76 36.50,511.65 37.50,511.89 38.50,512.05 39.50,511.55 40.50,511.32 41.50,511.36 42.50,510.99 43.50,511.04 44.50,511.13 45.50,511.11 46.50,510.89 47.50,510.85 48.50,510.83 49.50,511.04 50.50,510.98 51.50,510.86 52.50,511.50 53.50,511.39 54.50,511.55 55.50,511.33 56.50,512.00 57.50,512.02 58.50,511.62 59.50,511.86 60.50,512.16 61.50,512.20 62.50,512.53 63.50,512.29 64.50,512.64 65.50,512.58 66.50,512.36 67.50,512.59 68.50,512.81 69.50,512.78 70.50,512.54 71.50,512.59 72.50,512.19 73.50,512.31 74.50,512.69 75.50,512.40 76.50,512.20 77.50,512.44 78.50,512.59 79.50,512.60 80.50,512.41 81.50,512.46 82.50,512.44 83.50,512.56 84.50,512.51 85.50,512.55 86.50,512.71 87.50,512.47 88.50,512.55 89.50,513.07 90.50,513.31 91.50,513.07 92.50,512.96 93.50,512.83 94.50,513.11 95.50,513.48 96.50,513.35 97.50,513.19 98.50,513.38 99.50,512.88 100.50,512.98 101.50,513.16 102.50,512.76 103.50,512.53 104.50,512.27 105.50,512.35 106.50,512.54 107.50,511.81 108.50,512.28 109.50,512.20 110.50,512.10 111.50,511.84 112.50,511.74 113.50,511.42 114.50,511.37 115.50,511.24 116.50,510.98 117.50,511.57 118.50,511.35 119.50,510.95 120.50,510.84 121.50,510.33 122.50,509.71 123.50,509.56 124.50,510.14 125.50,510.83 126.50,511.33 127.50,511.52 128.50,511.34 129.50,511.49 130.50,511.42 131.50,511.69 132.50,511.88 133.50,511.85 134.50,511.87 135.50,511.92 136.50,511.54 137.50,511.92 138.50,511.73 139.50,511.21 140.50,511.07 141.50,511.02 142.50,511.51 143.50,511.17 144.50,511.11 145.50,511.52 146.50,511.39 147.50,511.26 148.50,511.39 149.50,511.71 150.50,511.52 151.50,511.67 152.50,512.07 153.50,512.01 154.50,512.06 155.50,512.33 156.50,512.17 157.50,512.58 158.50,512.74 159.50,512.69 160.50,512.72 161.50,513.33 162.50,513.05 163.50,512.89 164.50,513.36 165.50,513.60 166.50,513.05 167.50,513.03 168.50,513.06 169.50,513.39 170.50,512.96 171.50,513.29 172.50,513.19 173.50,513.01 174.50,512.70 175.50,513.14 176.50,512.93 177.50,512.65 178.50,512.38 179.50,512.61 180.50,512.38 181.50,512.47 182.50,512.26 183.50,512.43 184.50,511.95 185.50,512.07 186.50,512.63 187.50,512.62 188.50,512.24 189.50,512.64 190.50,512.27 191.50,512.72 192.50,512.59 193.50,512.36 194.50,512.23 195.50,512.03 196.50,512.60 197.50,511.94 198.50,512.41 199.50,512.46 200.50,512.13 201.50,511.76 202.50,512.15 203.50,512.12 204.50,511.83 205.50,511.59 206.50,511.40 207.50,511.28 208.50,511.09 209.50,511.35 210.50,511.12 211.50,510.90 212.50,510.81 213.50,511.18 214.50,510.88 215.50,511.03 216.50,511.00 217.50,511.48 218.50,511.58 219.50,511.06 220.50,511.29 221.50,511.50 222.50,512.08 223.50,512.05 224.50,511.85 225.50,511.85 226.50,512.28 227.50,512.53" fill="none" stroke="#e8e8e8" stroke-width="1.05" stroke-dasharray="1.8 1.1"/>
<text x="28.5" y="449.8" font-size="18.5" text-anchor="start" fill="#f2f2f2" >(e)</text>
<text x="107.3" y="449.8" font-size="18" fill="#f2f2f2">z=2 cm</text>
<text x="223.6" y="576.6" font-size="13.5" text-anchor="end" fill="#f4f4f4" >400 µm</text>
<rect x="185.7" y="581.8" width="37.00" height="2.10" fill="#fbfbfb"/>
<rect x="236.5" y="429" width="213.20" height="160.80" fill="url(#gf)"/>
<polyline points="237.00,510.49 238.00,510.51 239.00,509.91 240.00,509.97 241.00,510.54 242.00,510.52 243.00,510.52 244.00,510.32 245.00,510.58 246.00,510.63 247.00,510.64 248.00,510.36 249.00,510.56 250.00,510.55 251.00,510.79 252.00,510.97 253.00,510.91 254.00,510.57 255.00,510.43 256.00,510.22 257.00,509.96 258.00,509.84 259.00,510.02 260.00,509.78 261.00,509.68 262.00,509.90 263.00,509.52 264.00,509.42 265.00,509.07 266.00,508.81 267.00,508.92 268.00,508.70 269.00,508.89 270.00,509.18 271.00,508.90 272.00,508.52 273.00,509.00 274.00,508.96 275.00,508.96 276.00,509.13 277.00,509.09 278.00,509.17 279.00,508.93 280.00,509.44 281.00,509.49 282.00,508.99 283.00,509.46 284.00,509.50 285.00,509.38 286.00,509.48 287.00,509.49 288.00,509.81 289.00,509.53 290.00,509.75 291.00,509.40 292.00,509.75 293.00,509.74 294.00,509.42 295.00,509.47 296.00,509.70 297.00,509.55 298.00,509.35 299.00,509.08 300.00,509.08 301.00,509.38 302.00,509.10 303.00,509.64 304.00,509.12 305.00,509.56 306.00,509.32 307.00,509.98 308.00,509.89 309.00,509.72 310.00,509.76 311.00,510.08 312.00,510.28 313.00,510.18 314.00,510.07 315.00,510.29 316.00,510.78 317.00,510.76 318.00,510.41 319.00,510.82 320.00,510.69 321.00,510.93 322.00,510.53 323.00,510.86 324.00,510.19 325.00,510.45 326.00,510.22 327.00,510.22 328.00,510.57 329.00,509.84 330.00,510.02 331.00,510.26 332.00,509.83 333.00,509.75 334.00,510.13 335.00,509.72 336.00,509.86 337.00,509.31 338.00,509.46 339.00,509.25 340.00,509.59 341.00,509.14 342.00,509.43 343.00,507.89 344.00,506.96 345.00,505.44 346.00,506.11 347.00,507.96 348.00,508.67 349.00,509.21 350.00,509.68 351.00,509.44 352.00,509.20 353.00,509.88 354.00,509.27 355.00,509.14 356.00,509.30 357.00,509.42 358.00,509.41 359.00,508.81 360.00,508.76 361.00,508.41 362.00,508.70 363.00,508.90 364.00,508.74 365.00,508.64 366.00,508.49 367.00,508.69 368.00,508.64 369.00,508.41 370.00,508.12 371.00,508.47 372.00,508.44 373.00,508.44 374.00,508.70 375.00,508.96 376.00,508.56 377.00,509.16 378.00,509.23 379.00,509.38 380.00,509.11 381.00,509.81 382.00,509.60 383.00,510.03 384.00,509.94 385.00,509.62 386.00,510.08 387.00,510.00 388.00,510.06 389.00,510.04 390.00,510.09 391.00,510.09 392.00,510.56 393.00,510.49 394.00,510.79 395.00,510.72 396.00,510.73 397.00,510.15 398.00,510.25 399.00,510.08 400.00,510.30 401.00,510.30 402.00,510.41 403.00,510.34 404.00,510.02 405.00,510.14 406.00,510.22 407.00,509.87 408.00,509.92 409.00,510.23 410.00,510.07 411.00,510.54 412.00,510.24 413.00,510.17 414.00,510.25 415.00,510.30 416.00,510.28 417.00,510.47 418.00,510.42 419.00,510.29 420.00,510.48 421.00,510.12 422.00,510.52 423.00,510.47 424.00,510.20 425.00,509.87 426.00,509.80 427.00,509.71 428.00,509.20 429.00,509.32 430.00,509.27 431.00,508.92 432.00,508.75 433.00,509.15 434.00,508.76 435.00,508.80 436.00,509.02 437.00,508.77 438.00,508.53 439.00,509.01 440.00,508.59 441.00,508.36 442.00,508.88 443.00,508.55 444.00,508.78 445.00,509.23 446.00,509.20 447.00,508.83 448.00,509.22 449.00,509.27" fill="none" stroke="#e8e8e8" stroke-width="1.05" stroke-dasharray="1.8 1.1"/>
<text x="245.3" y="449.8" font-size="18.5" text-anchor="start" fill="#f2f2f2" >(f)</text>
<text x="314.9" y="449.8" font-size="18" fill="#f2f2f2">z=4 cm</text>
<text x="444.2" y="576.6" font-size="13.5" text-anchor="end" fill="#f4f4f4" >400 µm</text>
<rect x="405.9" y="581.6" width="37.20" height="2.10" fill="#fbfbfb"/>
<rect x="456.1" y="429" width="213.50" height="160.80" fill="url(#gg)"/>
<polyline points="456.60,508.39 457.60,508.62 458.60,508.53 459.60,508.72 460.60,508.77 461.60,508.45 462.60,508.51 463.60,509.19 464.60,508.88 465.60,508.96 466.60,509.59 467.60,509.32 468.60,509.67 469.60,509.50 470.60,509.69 471.60,509.40 472.60,509.78 473.60,509.96 474.60,509.71 475.60,509.86 476.60,509.81 477.60,509.37 478.60,509.80 479.60,509.61 480.60,509.32 481.60,509.02 482.60,509.50 483.60,509.10 484.60,509.14 485.60,509.11 486.60,508.85 487.60,508.85 488.60,508.37 489.60,508.57 490.60,508.24 491.60,508.51 492.60,508.41 493.60,507.80 494.60,507.79 495.60,507.80 496.60,508.29 497.60,507.89 498.60,508.04 499.60,507.86 500.60,508.05 501.60,508.00 502.60,508.01 503.60,508.20 504.60,508.22 505.60,508.47 506.60,508.32 507.60,508.49 508.60,508.44 509.60,508.52 510.60,508.27 511.60,507.88 512.60,508.32 513.60,508.32 514.60,508.20 515.60,507.90 516.60,507.95 517.60,507.55 518.60,507.91 519.60,507.62 520.60,507.28 521.60,507.03 522.60,507.58 523.60,507.74 524.60,507.16 525.60,507.62 526.60,507.22 527.60,506.90 528.60,507.00 529.60,507.55 530.60,507.91 531.60,507.52 532.60,507.95 533.60,507.44 534.60,507.85 535.60,507.74 536.60,508.48 537.60,508.89 538.60,508.72 539.60,509.04 540.60,509.26 541.60,509.17 542.60,509.57 543.60,509.03 544.60,508.71 545.60,508.94 546.60,509.51 547.60,509.29 548.60,509.18 549.60,509.71 550.60,509.26 551.60,509.65 552.60,509.53 553.60,509.08 554.60,508.95 555.60,508.73 556.60,508.78 557.60,508.86 558.60,508.75 559.60,508.45 560.60,508.03 561.60,507.11 562.60,507.14 563.60,508.02 564.60,508.26 565.60,508.58 566.60,509.06 567.60,508.60 568.60,508.68 569.60,508.52 570.60,508.90 571.60,509.03 572.60,508.63 573.60,509.03 574.60,509.00 575.60,508.55 576.60,508.86 577.60,508.49 578.60,508.09 579.60,507.85 580.60,508.42 581.60,508.46 582.60,507.85 583.60,507.75 584.60,507.49 585.60,507.68 586.60,506.98 587.60,506.79 588.60,506.61 589.60,506.37 590.60,506.58 591.60,506.73 592.60,506.82 593.60,506.88 594.60,506.52 595.60,506.53 596.60,506.99 597.60,506.76 598.60,507.38 599.60,507.64 600.60,507.40 601.60,507.40 602.60,507.93 603.60,507.73 604.60,507.90 605.60,508.23 606.60,508.52 607.60,508.18 608.60,508.40 609.60,508.48 610.60,508.90 611.60,508.69 612.60,509.01 613.60,508.55 614.60,508.67 615.60,508.88 616.60,509.04 617.60,508.73 618.60,508.56 619.60,508.47 620.60,508.75 621.60,508.50 622.60,508.93 623.60,508.95 624.60,508.49 625.60,508.57 626.60,508.98 627.60,508.95 628.60,509.14 629.60,508.90 630.60,508.83 631.60,509.02 632.60,509.45 633.60,509.16 634.60,509.26 635.60,509.36 636.60,509.43 637.60,509.51 638.60,509.93 639.60,509.43 640.60,509.33 641.60,509.98 642.60,509.91 643.60,509.94 644.60,509.49 645.60,509.77 646.60,509.65 647.60,509.04 648.60,509.27 649.60,509.21 650.60,508.97 651.60,508.76 652.60,508.47 653.60,508.38 654.60,508.18 655.60,507.95 656.60,508.21 657.60,507.91 658.60,508.20 659.60,507.61 660.60,508.15 661.60,507.96 662.60,508.09 663.60,508.08 664.60,508.11 665.60,507.92 666.60,507.57 667.60,508.12 668.60,507.76" fill="none" stroke="#e8e8e8" stroke-width="1.05" stroke-dasharray="1.8 1.1"/>
<text x="464.2" y="449.8" font-size="18.5" text-anchor="start" fill="#f2f2f2" >(g)</text>
<text x="534.4" y="449.8" font-size="18" fill="#f2f2f2">z=6 cm</text>
<text x="660.5" y="576.1" font-size="13.5" text-anchor="end" fill="#f4f4f4" >400 µm</text>
<rect x="622.0" y="581.0" width="37.00" height="2.10" fill="#fbfbfb"/>
<rect x="15.9" y="607.1" width="213.00" height="160.30" fill="url(#gh)"/>
<polyline points="16.40,682.92 17.40,682.88 18.40,683.16 19.40,683.07 20.40,683.11 21.40,683.45 22.40,683.93 23.40,683.97 24.40,684.08 25.40,683.83 26.40,684.18 27.40,684.12 28.40,684.16 29.40,684.22 30.40,684.38 31.40,684.97 32.40,684.98 33.40,685.03 34.40,685.06 35.40,684.66 36.40,684.75 37.40,684.97 38.40,685.03 39.40,685.09 40.40,685.08 41.40,684.49 42.40,684.80 43.40,684.80 44.40,684.65 45.40,684.39 46.40,684.59 47.40,684.31 48.40,684.89 49.40,684.85 50.40,684.64 51.40,684.48 52.40,684.94 53.40,684.74 54.40,684.99 55.40,685.00 56.40,684.80 57.40,684.77 58.40,684.95 59.40,684.88 60.40,684.72 61.40,684.84 62.40,685.20 63.40,684.64 64.40,684.61 65.40,684.95 66.40,684.65 67.40,684.76 68.40,684.64 69.40,684.45 70.40,684.78 71.40,684.07 72.40,684.08 73.40,683.81 74.40,684.01 75.40,683.64 76.40,683.56 77.40,683.68 78.40,683.23 79.40,683.30 80.40,683.50 81.40,682.90 82.40,682.83 83.40,682.89 84.40,683.19 85.40,683.05 86.40,682.84 87.40,683.01 88.40,682.98 89.40,683.22 90.40,682.91 91.40,683.33 92.40,683.55 93.40,683.78 94.40,683.79 95.40,684.02 96.40,683.35 97.40,683.42 98.40,683.83 99.40,683.84 100.40,683.80 101.40,684.26 102.40,684.00 103.40,683.93 104.40,683.30 105.40,683.22 106.40,683.65 107.40,683.61 108.40,683.79 109.40,684.02 110.40,683.23 111.40,682.81 112.40,683.08 113.40,683.53 114.40,684.12 115.40,683.81 116.40,683.55 117.40,683.24 118.40,684.12 119.40,684.14 120.40,684.21 121.40,684.19 122.40,684.13 123.40,683.65 124.40,682.25 125.40,678.54 126.40,674.77 127.40,673.70 128.40,675.74 129.40,680.25 130.40,682.84 131.40,684.71 132.40,685.41 133.40,685.27 134.40,685.64 135.40,685.08 136.40,684.52 137.40,684.47 138.40,684.40 139.40,684.80 140.40,684.59 141.40,684.76 142.40,684.25 143.40,683.73 144.40,683.56 145.40,683.93 146.40,683.94 147.40,683.78 148.40,683.50 149.40,683.64 150.40,683.14 151.40,683.32 152.40,684.08 153.40,683.84 154.40,684.03 155.40,683.44 156.40,683.73 157.40,683.72 158.40,684.01 159.40,684.05 160.40,683.87 161.40,683.50 162.40,683.49 163.40,683.98 164.40,684.10 165.40,684.17 166.40,683.74 167.40,683.88 168.40,683.86 169.40,683.67 170.40,683.78 171.40,683.57 172.40,683.61 173.40,683.55 174.40,683.15 175.40,683.51 176.40,683.49 177.40,682.87 178.40,683.49 179.40,683.47 180.40,683.25 181.40,682.80 182.40,683.42 183.40,682.95 184.40,683.63 185.40,683.52 186.40,683.19 187.40,683.36 188.40,683.80 189.40,683.89 190.40,684.17 191.40,684.44 192.40,684.08 193.40,684.06 194.40,684.82 195.40,684.29 196.40,684.99 197.40,684.54 198.40,685.11 199.40,685.16 200.40,685.27 201.40,685.07 202.40,685.31 203.40,684.83 204.40,685.14 205.40,684.87 206.40,685.22 207.40,685.09 208.40,684.82 209.40,684.80 210.40,684.39 211.40,684.36 212.40,684.72 213.40,684.62 214.40,684.86 215.40,684.66 216.40,684.32 217.40,684.48 218.40,684.78 219.40,684.62 220.40,684.29 221.40,684.89 222.40,684.91 223.40,684.42 224.40,684.77 225.40,684.68 226.40,685.00 227.40,684.68 228.40,684.63" fill="none" stroke="#e8e8e8" stroke-width="1.05" stroke-dasharray="1.8 1.1"/>
<text x="28.7" y="627.9" font-size="18.5" text-anchor="start" fill="#f2f2f2" >(h)</text>
<text x="94.5" y="627.9" font-size="18" fill="#f2f2f2">z<tspan font-size="13" font-style="italic" dy="5">c</tspan><tspan dy="-5">=9.55 cm</tspan></text>
<text x="224.2" y="752.4" font-size="13.5" text-anchor="end" fill="#f4f4f4" >400 µm</text>
<rect x="185.9" y="757.8" width="37.20" height="2.20" fill="#fbfbfb"/>
<rect x="235.2" y="606.7" width="213.60" height="160.70" fill="url(#gi)"/>
<polyline points="235.70,683.71 236.70,683.73 237.70,683.73 238.70,683.81 239.70,683.67 240.70,683.82 241.70,683.24 242.70,683.60 243.70,684.00 244.70,683.88 245.70,684.15 246.70,683.69 247.70,684.04 248.70,683.99 249.70,684.30 250.70,684.41 251.70,684.11 252.70,684.33 253.70,684.46 254.70,684.97 255.70,684.92 256.70,684.54 257.70,685.01 258.70,684.57 259.70,684.91 260.70,684.56 261.70,684.46 262.70,685.05 263.70,684.57 264.70,684.56 265.70,685.09 266.70,685.01 267.70,684.61 268.70,685.09 269.70,684.81 270.70,684.94 271.70,684.64 272.70,685.20 273.70,685.08 274.70,685.34 275.70,685.37 276.70,685.04 277.70,685.18 278.70,685.13 279.70,685.20 280.70,685.23 281.70,685.47 282.70,685.75 283.70,685.39 284.70,685.90 285.70,685.67 286.70,685.65 287.70,686.00 288.70,685.76 289.70,685.61 290.70,685.66 291.70,685.73 292.70,685.16 293.70,685.67 294.70,684.90 295.70,685.31 296.70,685.27 297.70,684.56 298.70,684.94 299.70,684.48 300.70,684.47 301.70,683.98 302.70,683.95 303.70,683.99 304.70,684.46 305.70,683.84 306.70,684.11 307.70,684.14 308.70,684.16 309.70,683.83 310.70,683.90 311.70,684.04 312.70,684.19 313.70,683.63 314.70,684.00 315.70,684.12 316.70,684.34 317.70,683.88 318.70,684.55 319.70,683.88 320.70,683.86 321.70,683.88 322.70,684.17 323.70,683.96 324.70,684.47 325.70,684.18 326.70,683.85 327.70,683.53 328.70,683.18 329.70,683.18 330.70,683.48 331.70,683.99 332.70,684.19 333.70,683.45 334.70,683.05 335.70,683.51 336.70,683.40 337.70,683.68 338.70,683.76 339.70,684.00 340.70,683.82 341.70,682.37 342.70,679.69 343.70,675.44 344.70,672.63 345.70,671.75 346.70,675.30 347.70,679.89 348.70,682.62 349.70,684.70 350.70,685.52 351.70,685.52 352.70,685.62 353.70,684.91 354.70,684.94 355.70,684.91 356.70,685.74 357.70,685.53 358.70,685.64 359.70,685.85 360.70,685.42 361.70,685.27 362.70,684.99 363.70,685.23 364.70,685.48 365.70,685.24 366.70,684.93 367.70,684.72 368.70,684.35 369.70,684.58 370.70,685.17 371.70,685.22 372.70,684.97 373.70,684.79 374.70,684.53 375.70,684.28 376.70,684.50 377.70,685.01 378.70,685.16 379.70,684.83 380.70,685.10 381.70,685.02 382.70,684.93 383.70,684.95 384.70,685.09 385.70,684.84 386.70,685.05 387.70,684.68 388.70,684.72 389.70,684.82 390.70,684.71 391.70,684.39 392.70,684.77 393.70,684.46 394.70,684.28 395.70,683.74 396.70,683.99 397.70,683.69 398.70,683.91 399.70,683.69 400.70,683.86 401.70,683.67 402.70,683.71 403.70,683.35 404.70,683.56 405.70,683.65 406.70,683.75 407.70,683.46 408.70,683.86 409.70,683.96 410.70,683.92 411.70,684.23 412.70,684.32 413.70,684.12 414.70,684.24 415.70,684.09 416.70,684.68 417.70,684.86 418.70,684.64 419.70,684.88 420.70,684.98 421.70,685.05 422.70,684.71 423.70,685.17 424.70,685.05 425.70,685.11 426.70,684.95 427.70,685.09 428.70,685.19 429.70,685.08 430.70,685.12 431.70,684.62 432.70,684.70 433.70,684.88 434.70,685.02 435.70,684.72 436.70,685.06 437.70,685.04 438.70,684.66 439.70,685.00 440.70,684.89 441.70,684.83 442.70,684.96 443.70,685.16 444.70,685.14 445.70,685.22 446.70,685.18 447.70,685.55" fill="none" stroke="#e8e8e8" stroke-width="1.05" stroke-dasharray="1.8 1.1"/>
<text x="246.1" y="627.5" font-size="18.5" text-anchor="start" fill="#f2f2f2" >(i)</text>
<text x="304.8" y="627.5" font-size="18" fill="#f2f2f2">z<tspan font-size="13" font-style="italic" dy="5" dx="0">f</tspan><tspan dy="-5" dx="-2">=10.04 cm</tspan></text>
<text x="444.6" y="752.4" font-size="13.5" text-anchor="end" fill="#f4f4f4" >400 µm</text>
<rect x="406.9" y="757.8" width="37.00" height="2.20" fill="#fbfbfb"/>
<rect x="457.2" y="606.6" width="212.90" height="160.40" fill="url(#gj)"/>
<polyline points="457.70,685.59 458.70,685.51 459.70,685.20 460.70,684.98 461.70,684.75 462.70,685.19 463.70,685.04 464.70,685.25 465.70,684.99 466.70,685.30 467.70,685.00 468.70,685.42 469.70,685.43 470.70,685.26 471.70,685.41 472.70,685.57 473.70,685.28 474.70,685.58 475.70,685.80 476.70,685.45 477.70,685.85 478.70,685.78 479.70,685.89 480.70,685.54 481.70,685.35 482.70,685.83 483.70,685.81 484.70,685.53 485.70,685.26 486.70,685.31 487.70,685.60 488.70,685.34 489.70,685.80 490.70,685.55 491.70,685.30 492.70,685.65 493.70,685.50 494.70,685.96 495.70,686.02 496.70,685.83 497.70,686.02 498.70,686.17 499.70,686.36 500.70,686.60 501.70,686.06 502.70,686.41 503.70,686.71 504.70,686.62 505.70,686.92 506.70,686.67 507.70,687.30 508.70,687.11 509.70,686.87 510.70,687.28 511.70,687.05 512.70,686.95 513.70,687.13 514.70,686.84 515.70,686.83 516.70,687.20 517.70,687.00 518.70,686.43 519.70,686.87 520.70,686.24 521.70,686.36 522.70,686.66 523.70,686.35 524.70,686.03 525.70,686.01 526.70,685.96 527.70,685.73 528.70,686.30 529.70,685.60 530.70,685.82 531.70,686.02 532.70,685.76 533.70,686.19 534.70,685.71 535.70,686.25 536.70,686.20 537.70,686.04 538.70,686.18 539.70,685.84 540.70,686.12 541.70,686.11 542.70,685.91 543.70,685.85 544.70,685.96 545.70,685.67 546.70,685.33 547.70,685.70 548.70,685.32 549.70,685.43 550.70,685.56 551.70,685.04 552.70,684.82 553.70,684.76 554.70,684.99 555.70,684.79 556.70,684.71 557.70,684.81 558.70,685.06 559.70,684.38 560.70,684.03 561.70,683.53 562.70,682.20 563.70,680.84 564.70,680.43 565.70,680.82 566.70,681.73 567.70,683.27 568.70,684.36 569.70,685.45 570.70,685.54 571.70,686.02 572.70,686.38 573.70,686.43 574.70,686.11 575.70,686.36 576.70,686.29 577.70,686.45 578.70,686.57 579.70,686.81 580.70,686.89 581.70,686.40 582.70,686.19 583.70,686.52 584.70,686.26 585.70,686.23 586.70,686.72 587.70,686.20 588.70,686.56 589.70,686.26 590.70,686.65 591.70,686.61 592.70,686.07 593.70,686.17 594.70,686.70 595.70,686.46 596.70,686.34 597.70,686.62 598.70,686.70 599.70,686.55 600.70,686.59 601.70,686.38 602.70,686.60 603.70,686.47 604.70,686.84 605.70,686.85 606.70,686.56 607.70,686.91 608.70,686.52 609.70,686.50 610.70,686.82 611.70,686.62 612.70,686.85 613.70,686.58 614.70,686.53 615.70,686.01 616.70,686.38 617.70,685.72 618.70,685.96 619.70,686.03 620.70,685.90 621.70,685.76 622.70,685.33 623.70,685.39 624.70,685.37 625.70,684.83 626.70,685.33 627.70,685.26 628.70,684.91 629.70,685.14 630.70,684.92 631.70,684.82 632.70,685.17 633.70,684.76 634.70,685.34 635.70,685.53 636.70,685.12 637.70,685.65 638.70,685.12 639.70,685.74 640.70,685.40 641.70,685.94 642.70,685.62 643.70,686.01 644.70,685.41 645.70,685.47 646.70,685.99 647.70,685.87 648.70,685.79 649.70,685.43 650.70,685.51 651.70,685.63 652.70,685.39 653.70,686.03 654.70,685.86 655.70,685.99 656.70,685.82 657.70,685.59 658.70,685.43 659.70,685.92 660.70,685.54 661.70,685.91 662.70,685.93 663.70,686.04 664.70,685.85 665.70,685.95 666.70,686.38 667.70,686.15 668.70,686.61" fill="none" stroke="#e8e8e8" stroke-width="1.05" stroke-dasharray="1.8 1.1"/>
<text x="464.2" y="627.4" font-size="18.5" text-anchor="start" fill="#f2f2f2" >(j)</text>
<text x="534.5" y="627.4" font-size="18" fill="#f2f2f2">z=12 cm</text>
<text x="660.1" y="753.1" font-size="13.5" text-anchor="end" fill="#f4f4f4" >400 µm</text>
<rect x="622.0" y="758.4" width="37.00" height="2.20" fill="#fbfbfb"/>
</svg></body></html>
